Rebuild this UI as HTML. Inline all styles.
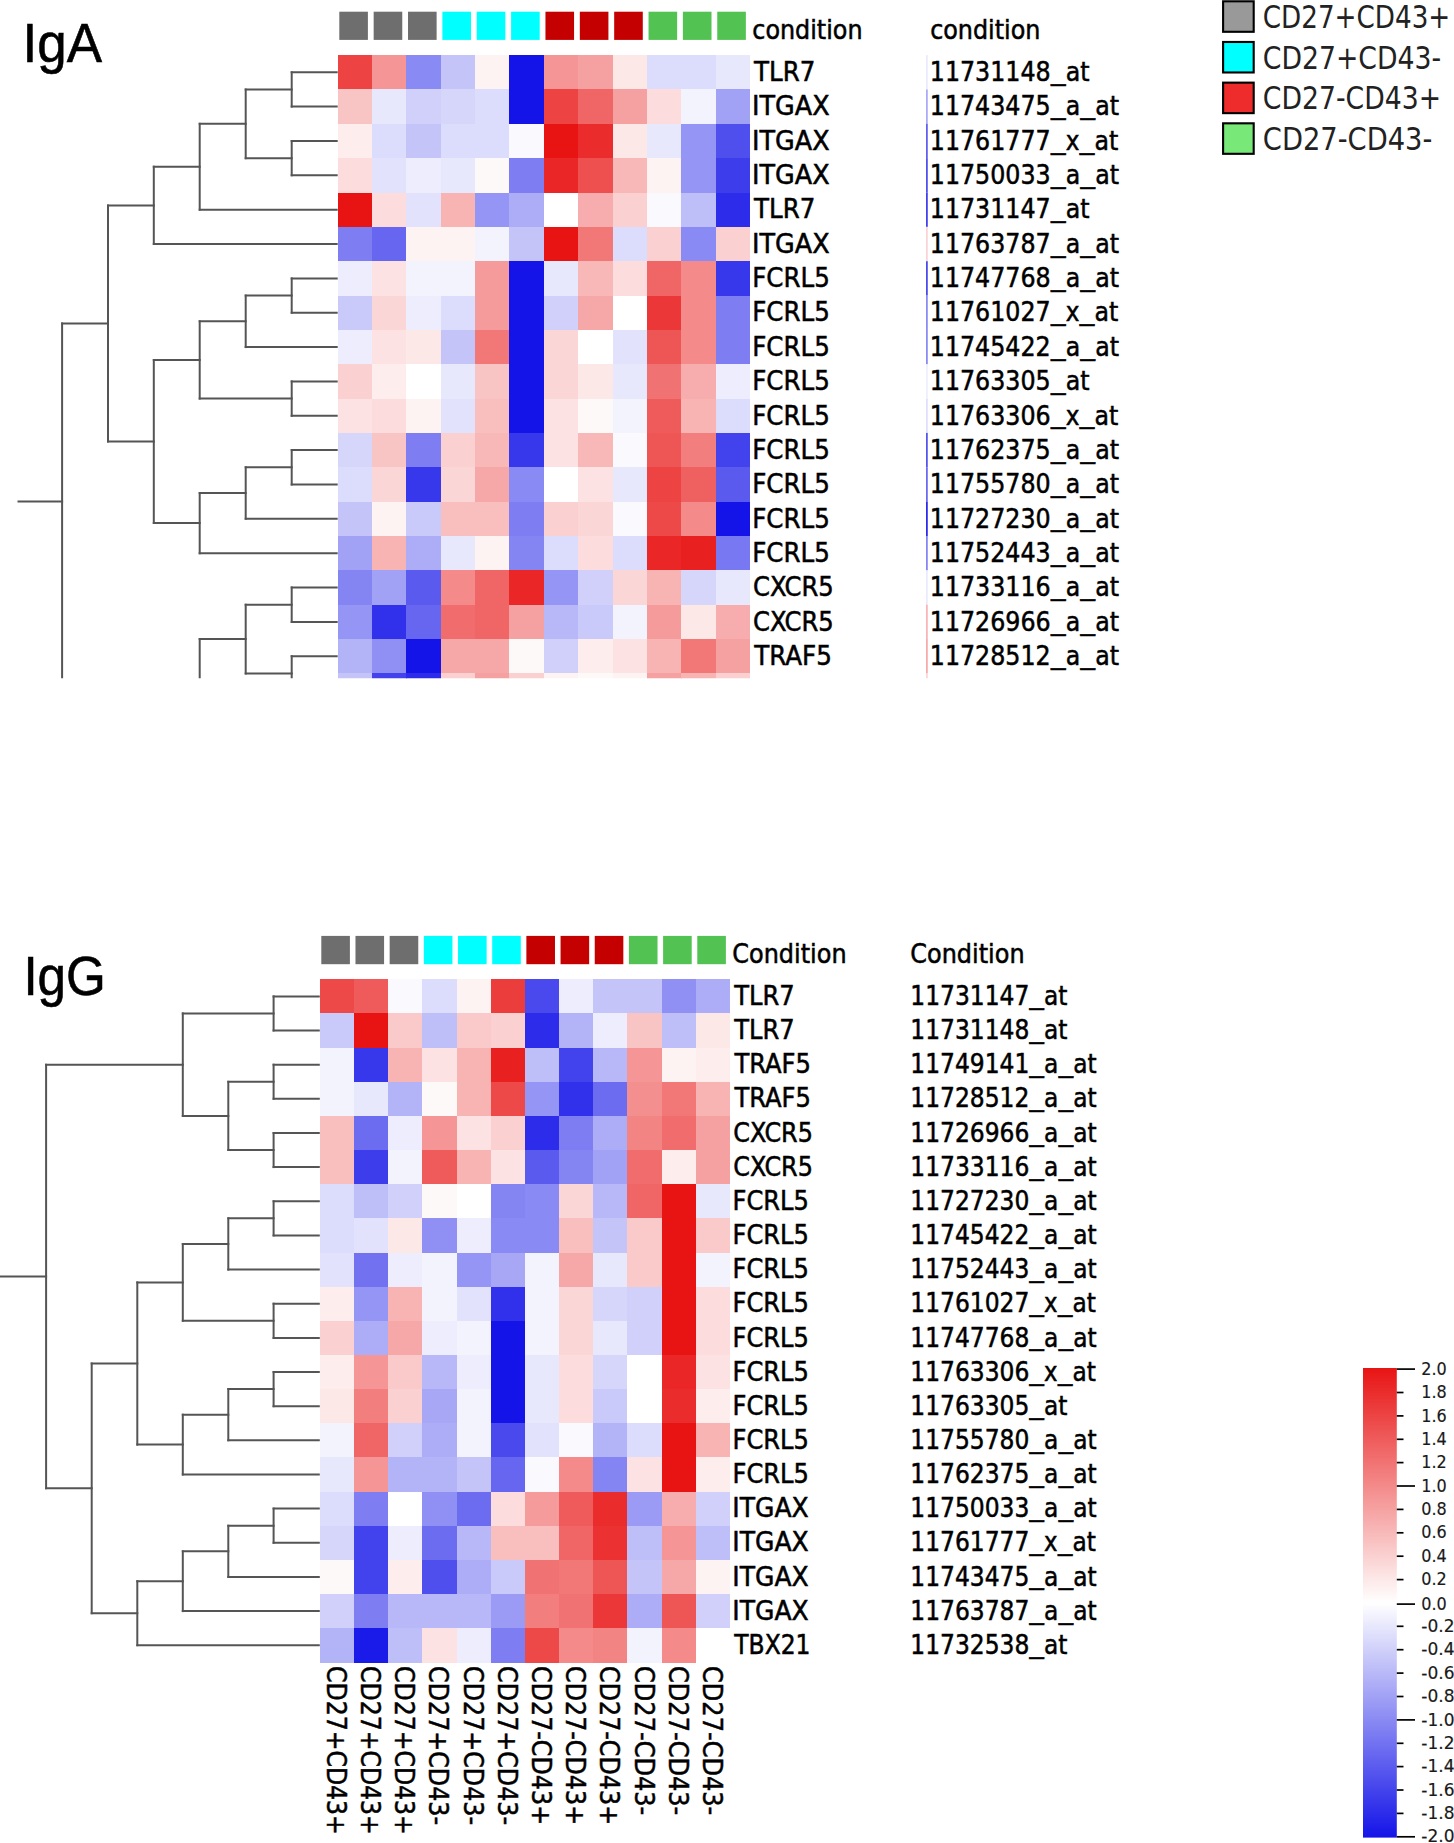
<!DOCTYPE html>
<html lang="en"><head><meta charset="utf-8"><title>Heatmaps IgA / IgG</title>
<style>
html,body{margin:0;padding:0;background:#fff;}
body{width:1454px;height:1843px;overflow:hidden;}
svg{display:block;}
</style></head><body>
<svg width="1454" height="1843" viewBox="0 0 1454 1843">
<rect x="0" y="0" width="1454" height="1843" fill="#ffffff"/>
<clipPath id="ct"><rect x="0" y="0" width="1454" height="678.3"/></clipPath>
<g clip-path="url(#ct)">
<g shape-rendering="crispEdges">
<rect x="337.70" y="55.10" width="34.65" height="34.65" fill="#ed4343"/>
<rect x="372.05" y="55.10" width="34.65" height="34.65" fill="#f59595"/>
<rect x="406.40" y="55.10" width="34.65" height="34.65" fill="#8a8af4"/>
<rect x="440.75" y="55.10" width="34.65" height="34.65" fill="#c4c4f9"/>
<rect x="475.10" y="55.10" width="34.65" height="34.65" fill="#fef3f3"/>
<rect x="509.45" y="55.10" width="34.65" height="34.65" fill="#1414e8"/>
<rect x="543.80" y="55.10" width="34.65" height="34.65" fill="#f59595"/>
<rect x="578.15" y="55.10" width="34.65" height="34.65" fill="#f6a1a1"/>
<rect x="612.50" y="55.10" width="34.65" height="34.65" fill="#fde8e8"/>
<rect x="646.85" y="55.10" width="34.65" height="34.65" fill="#dcdcfc"/>
<rect x="681.20" y="55.10" width="34.65" height="34.65" fill="#dcdcfc"/>
<rect x="715.55" y="55.10" width="34.65" height="34.65" fill="#e8e8fd"/>
<rect x="337.70" y="89.45" width="34.65" height="34.65" fill="#f9c4c4"/>
<rect x="372.05" y="89.45" width="34.65" height="34.65" fill="#e8e8fd"/>
<rect x="406.40" y="89.45" width="34.65" height="34.65" fill="#d0d0fa"/>
<rect x="440.75" y="89.45" width="34.65" height="34.65" fill="#d6d6fb"/>
<rect x="475.10" y="89.45" width="34.65" height="34.65" fill="#dcdcfc"/>
<rect x="509.45" y="89.45" width="34.65" height="34.65" fill="#1414e8"/>
<rect x="543.80" y="89.45" width="34.65" height="34.65" fill="#ed4343"/>
<rect x="578.15" y="89.45" width="34.65" height="34.65" fill="#f06666"/>
<rect x="612.50" y="89.45" width="34.65" height="34.65" fill="#f6a1a1"/>
<rect x="646.85" y="89.45" width="34.65" height="34.65" fill="#fcdcdc"/>
<rect x="681.20" y="89.45" width="34.65" height="34.65" fill="#f3f3fe"/>
<rect x="715.55" y="89.45" width="34.65" height="34.65" fill="#a1a1f6"/>
<rect x="337.70" y="123.80" width="34.65" height="34.65" fill="#fdeded"/>
<rect x="372.05" y="123.80" width="34.65" height="34.65" fill="#dcdcfc"/>
<rect x="406.40" y="123.80" width="34.65" height="34.65" fill="#c4c4f9"/>
<rect x="440.75" y="123.80" width="34.65" height="34.65" fill="#dcdcfc"/>
<rect x="475.10" y="123.80" width="34.65" height="34.65" fill="#dcdcfc"/>
<rect x="509.45" y="123.80" width="34.65" height="34.65" fill="#f9f9fe"/>
<rect x="543.80" y="123.80" width="34.65" height="34.65" fill="#e81414"/>
<rect x="578.15" y="123.80" width="34.65" height="34.65" fill="#ea2c2c"/>
<rect x="612.50" y="123.80" width="34.65" height="34.65" fill="#fde8e8"/>
<rect x="646.85" y="123.80" width="34.65" height="34.65" fill="#e8e8fd"/>
<rect x="681.20" y="123.80" width="34.65" height="34.65" fill="#9595f5"/>
<rect x="715.55" y="123.80" width="34.65" height="34.65" fill="#4f4fee"/>
<rect x="337.70" y="158.15" width="34.65" height="34.65" fill="#fcdcdc"/>
<rect x="372.05" y="158.15" width="34.65" height="34.65" fill="#e2e2fc"/>
<rect x="406.40" y="158.15" width="34.65" height="34.65" fill="#ededfd"/>
<rect x="440.75" y="158.15" width="34.65" height="34.65" fill="#e8e8fd"/>
<rect x="475.10" y="158.15" width="34.65" height="34.65" fill="#fef9f9"/>
<rect x="509.45" y="158.15" width="34.65" height="34.65" fill="#7e7ef2"/>
<rect x="543.80" y="158.15" width="34.65" height="34.65" fill="#ea2626"/>
<rect x="578.15" y="158.15" width="34.65" height="34.65" fill="#ee4f4f"/>
<rect x="612.50" y="158.15" width="34.65" height="34.65" fill="#f8b8b8"/>
<rect x="646.85" y="158.15" width="34.65" height="34.65" fill="#fef3f3"/>
<rect x="681.20" y="158.15" width="34.65" height="34.65" fill="#9595f5"/>
<rect x="715.55" y="158.15" width="34.65" height="34.65" fill="#3d3dec"/>
<rect x="337.70" y="192.50" width="34.65" height="34.65" fill="#e81414"/>
<rect x="372.05" y="192.50" width="34.65" height="34.65" fill="#fcdcdc"/>
<rect x="406.40" y="192.50" width="34.65" height="34.65" fill="#e2e2fc"/>
<rect x="440.75" y="192.50" width="34.65" height="34.65" fill="#f8b3b3"/>
<rect x="475.10" y="192.50" width="34.65" height="34.65" fill="#9595f5"/>
<rect x="509.45" y="192.50" width="34.65" height="34.65" fill="#adadf7"/>
<rect x="543.80" y="192.50" width="34.65" height="34.65" fill="#ffffff"/>
<rect x="578.15" y="192.50" width="34.65" height="34.65" fill="#f7adad"/>
<rect x="612.50" y="192.50" width="34.65" height="34.65" fill="#fad0d0"/>
<rect x="646.85" y="192.50" width="34.65" height="34.65" fill="#f9f9fe"/>
<rect x="681.20" y="192.50" width="34.65" height="34.65" fill="#bebef9"/>
<rect x="715.55" y="192.50" width="34.65" height="34.65" fill="#2c2cea"/>
<rect x="337.70" y="226.85" width="34.65" height="34.65" fill="#7e7ef2"/>
<rect x="372.05" y="226.85" width="34.65" height="34.65" fill="#6666f0"/>
<rect x="406.40" y="226.85" width="34.65" height="34.65" fill="#fef3f3"/>
<rect x="440.75" y="226.85" width="34.65" height="34.65" fill="#fef3f3"/>
<rect x="475.10" y="226.85" width="34.65" height="34.65" fill="#f3f3fe"/>
<rect x="509.45" y="226.85" width="34.65" height="34.65" fill="#c4c4f9"/>
<rect x="543.80" y="226.85" width="34.65" height="34.65" fill="#e81414"/>
<rect x="578.15" y="226.85" width="34.65" height="34.65" fill="#f27878"/>
<rect x="612.50" y="226.85" width="34.65" height="34.65" fill="#dcdcfc"/>
<rect x="646.85" y="226.85" width="34.65" height="34.65" fill="#fad0d0"/>
<rect x="681.20" y="226.85" width="34.65" height="34.65" fill="#8a8af4"/>
<rect x="715.55" y="226.85" width="34.65" height="34.65" fill="#fad0d0"/>
<rect x="337.70" y="261.20" width="34.65" height="34.65" fill="#ededfd"/>
<rect x="372.05" y="261.20" width="34.65" height="34.65" fill="#fce2e2"/>
<rect x="406.40" y="261.20" width="34.65" height="34.65" fill="#f3f3fe"/>
<rect x="440.75" y="261.20" width="34.65" height="34.65" fill="#f3f3fe"/>
<rect x="475.10" y="261.20" width="34.65" height="34.65" fill="#f59b9b"/>
<rect x="509.45" y="261.20" width="34.65" height="34.65" fill="#1414e8"/>
<rect x="543.80" y="261.20" width="34.65" height="34.65" fill="#e8e8fd"/>
<rect x="578.15" y="261.20" width="34.65" height="34.65" fill="#f8b8b8"/>
<rect x="612.50" y="261.20" width="34.65" height="34.65" fill="#fcdcdc"/>
<rect x="646.85" y="261.20" width="34.65" height="34.65" fill="#f06666"/>
<rect x="681.20" y="261.20" width="34.65" height="34.65" fill="#f48a8a"/>
<rect x="715.55" y="261.20" width="34.65" height="34.65" fill="#3737eb"/>
<rect x="337.70" y="295.55" width="34.65" height="34.65" fill="#cacafa"/>
<rect x="372.05" y="295.55" width="34.65" height="34.65" fill="#fbd6d6"/>
<rect x="406.40" y="295.55" width="34.65" height="34.65" fill="#ededfd"/>
<rect x="440.75" y="295.55" width="34.65" height="34.65" fill="#dcdcfc"/>
<rect x="475.10" y="295.55" width="34.65" height="34.65" fill="#f59b9b"/>
<rect x="509.45" y="295.55" width="34.65" height="34.65" fill="#1414e8"/>
<rect x="543.80" y="295.55" width="34.65" height="34.65" fill="#d0d0fa"/>
<rect x="578.15" y="295.55" width="34.65" height="34.65" fill="#f6a7a7"/>
<rect x="612.50" y="295.55" width="34.65" height="34.65" fill="#ffffff"/>
<rect x="646.85" y="295.55" width="34.65" height="34.65" fill="#eb3737"/>
<rect x="681.20" y="295.55" width="34.65" height="34.65" fill="#f48a8a"/>
<rect x="715.55" y="295.55" width="34.65" height="34.65" fill="#7e7ef2"/>
<rect x="337.70" y="329.90" width="34.65" height="34.65" fill="#ededfd"/>
<rect x="372.05" y="329.90" width="34.65" height="34.65" fill="#fce2e2"/>
<rect x="406.40" y="329.90" width="34.65" height="34.65" fill="#fde8e8"/>
<rect x="440.75" y="329.90" width="34.65" height="34.65" fill="#c4c4f9"/>
<rect x="475.10" y="329.90" width="34.65" height="34.65" fill="#f27878"/>
<rect x="509.45" y="329.90" width="34.65" height="34.65" fill="#1414e8"/>
<rect x="543.80" y="329.90" width="34.65" height="34.65" fill="#fbd6d6"/>
<rect x="578.15" y="329.90" width="34.65" height="34.65" fill="#ffffff"/>
<rect x="612.50" y="329.90" width="34.65" height="34.65" fill="#e2e2fc"/>
<rect x="646.85" y="329.90" width="34.65" height="34.65" fill="#ee5555"/>
<rect x="681.20" y="329.90" width="34.65" height="34.65" fill="#f48a8a"/>
<rect x="715.55" y="329.90" width="34.65" height="34.65" fill="#7e7ef2"/>
<rect x="337.70" y="364.25" width="34.65" height="34.65" fill="#fad0d0"/>
<rect x="372.05" y="364.25" width="34.65" height="34.65" fill="#fdeded"/>
<rect x="406.40" y="364.25" width="34.65" height="34.65" fill="#ffffff"/>
<rect x="440.75" y="364.25" width="34.65" height="34.65" fill="#e8e8fd"/>
<rect x="475.10" y="364.25" width="34.65" height="34.65" fill="#f9c4c4"/>
<rect x="509.45" y="364.25" width="34.65" height="34.65" fill="#1414e8"/>
<rect x="543.80" y="364.25" width="34.65" height="34.65" fill="#fbd6d6"/>
<rect x="578.15" y="364.25" width="34.65" height="34.65" fill="#fde8e8"/>
<rect x="612.50" y="364.25" width="34.65" height="34.65" fill="#e8e8fd"/>
<rect x="646.85" y="364.25" width="34.65" height="34.65" fill="#f17272"/>
<rect x="681.20" y="364.25" width="34.65" height="34.65" fill="#f7adad"/>
<rect x="715.55" y="364.25" width="34.65" height="34.65" fill="#ededfd"/>
<rect x="337.70" y="398.60" width="34.65" height="34.65" fill="#fce2e2"/>
<rect x="372.05" y="398.60" width="34.65" height="34.65" fill="#fcdcdc"/>
<rect x="406.40" y="398.60" width="34.65" height="34.65" fill="#fef3f3"/>
<rect x="440.75" y="398.60" width="34.65" height="34.65" fill="#e2e2fc"/>
<rect x="475.10" y="398.60" width="34.65" height="34.65" fill="#f9bebe"/>
<rect x="509.45" y="398.60" width="34.65" height="34.65" fill="#1414e8"/>
<rect x="543.80" y="398.60" width="34.65" height="34.65" fill="#fce2e2"/>
<rect x="578.15" y="398.60" width="34.65" height="34.65" fill="#fef9f9"/>
<rect x="612.50" y="398.60" width="34.65" height="34.65" fill="#f3f3fe"/>
<rect x="646.85" y="398.60" width="34.65" height="34.65" fill="#ef5a5a"/>
<rect x="681.20" y="398.60" width="34.65" height="34.65" fill="#f8b3b3"/>
<rect x="715.55" y="398.60" width="34.65" height="34.65" fill="#dcdcfc"/>
<rect x="337.70" y="432.95" width="34.65" height="34.65" fill="#d6d6fb"/>
<rect x="372.05" y="432.95" width="34.65" height="34.65" fill="#f9c4c4"/>
<rect x="406.40" y="432.95" width="34.65" height="34.65" fill="#7e7ef2"/>
<rect x="440.75" y="432.95" width="34.65" height="34.65" fill="#fad0d0"/>
<rect x="475.10" y="432.95" width="34.65" height="34.65" fill="#f8b8b8"/>
<rect x="509.45" y="432.95" width="34.65" height="34.65" fill="#3737eb"/>
<rect x="543.80" y="432.95" width="34.65" height="34.65" fill="#fce2e2"/>
<rect x="578.15" y="432.95" width="34.65" height="34.65" fill="#f8b8b8"/>
<rect x="612.50" y="432.95" width="34.65" height="34.65" fill="#f9f9fe"/>
<rect x="646.85" y="432.95" width="34.65" height="34.65" fill="#ee5555"/>
<rect x="681.20" y="432.95" width="34.65" height="34.65" fill="#f27e7e"/>
<rect x="715.55" y="432.95" width="34.65" height="34.65" fill="#4343ed"/>
<rect x="337.70" y="467.30" width="34.65" height="34.65" fill="#dcdcfc"/>
<rect x="372.05" y="467.30" width="34.65" height="34.65" fill="#fbd6d6"/>
<rect x="406.40" y="467.30" width="34.65" height="34.65" fill="#3737eb"/>
<rect x="440.75" y="467.30" width="34.65" height="34.65" fill="#fbd6d6"/>
<rect x="475.10" y="467.30" width="34.65" height="34.65" fill="#f6a7a7"/>
<rect x="509.45" y="467.30" width="34.65" height="34.65" fill="#8a8af4"/>
<rect x="543.80" y="467.30" width="34.65" height="34.65" fill="#ffffff"/>
<rect x="578.15" y="467.30" width="34.65" height="34.65" fill="#fce2e2"/>
<rect x="612.50" y="467.30" width="34.65" height="34.65" fill="#e8e8fd"/>
<rect x="646.85" y="467.30" width="34.65" height="34.65" fill="#ed4343"/>
<rect x="681.20" y="467.30" width="34.65" height="34.65" fill="#ef6060"/>
<rect x="715.55" y="467.30" width="34.65" height="34.65" fill="#5a5aef"/>
<rect x="337.70" y="501.65" width="34.65" height="34.65" fill="#c4c4f9"/>
<rect x="372.05" y="501.65" width="34.65" height="34.65" fill="#fef3f3"/>
<rect x="406.40" y="501.65" width="34.65" height="34.65" fill="#cacafa"/>
<rect x="440.75" y="501.65" width="34.65" height="34.65" fill="#f9bebe"/>
<rect x="475.10" y="501.65" width="34.65" height="34.65" fill="#f9bebe"/>
<rect x="509.45" y="501.65" width="34.65" height="34.65" fill="#7e7ef2"/>
<rect x="543.80" y="501.65" width="34.65" height="34.65" fill="#fad0d0"/>
<rect x="578.15" y="501.65" width="34.65" height="34.65" fill="#fbd6d6"/>
<rect x="612.50" y="501.65" width="34.65" height="34.65" fill="#f9f9fe"/>
<rect x="646.85" y="501.65" width="34.65" height="34.65" fill="#ed4949"/>
<rect x="681.20" y="501.65" width="34.65" height="34.65" fill="#f48a8a"/>
<rect x="715.55" y="501.65" width="34.65" height="34.65" fill="#1414e8"/>
<rect x="337.70" y="536.00" width="34.65" height="34.65" fill="#a1a1f6"/>
<rect x="372.05" y="536.00" width="34.65" height="34.65" fill="#f8b3b3"/>
<rect x="406.40" y="536.00" width="34.65" height="34.65" fill="#adadf7"/>
<rect x="440.75" y="536.00" width="34.65" height="34.65" fill="#e8e8fd"/>
<rect x="475.10" y="536.00" width="34.65" height="34.65" fill="#fef3f3"/>
<rect x="509.45" y="536.00" width="34.65" height="34.65" fill="#8484f3"/>
<rect x="543.80" y="536.00" width="34.65" height="34.65" fill="#dcdcfc"/>
<rect x="578.15" y="536.00" width="34.65" height="34.65" fill="#fcdcdc"/>
<rect x="612.50" y="536.00" width="34.65" height="34.65" fill="#dcdcfc"/>
<rect x="646.85" y="536.00" width="34.65" height="34.65" fill="#ea2626"/>
<rect x="681.20" y="536.00" width="34.65" height="34.65" fill="#e92020"/>
<rect x="715.55" y="536.00" width="34.65" height="34.65" fill="#7878f2"/>
<rect x="337.70" y="570.35" width="34.65" height="34.65" fill="#8484f3"/>
<rect x="372.05" y="570.35" width="34.65" height="34.65" fill="#a1a1f6"/>
<rect x="406.40" y="570.35" width="34.65" height="34.65" fill="#5a5aef"/>
<rect x="440.75" y="570.35" width="34.65" height="34.65" fill="#f48a8a"/>
<rect x="475.10" y="570.35" width="34.65" height="34.65" fill="#f06666"/>
<rect x="509.45" y="570.35" width="34.65" height="34.65" fill="#ea2626"/>
<rect x="543.80" y="570.35" width="34.65" height="34.65" fill="#9595f5"/>
<rect x="578.15" y="570.35" width="34.65" height="34.65" fill="#d0d0fa"/>
<rect x="612.50" y="570.35" width="34.65" height="34.65" fill="#fbd6d6"/>
<rect x="646.85" y="570.35" width="34.65" height="34.65" fill="#f8b3b3"/>
<rect x="681.20" y="570.35" width="34.65" height="34.65" fill="#d6d6fb"/>
<rect x="715.55" y="570.35" width="34.65" height="34.65" fill="#e8e8fd"/>
<rect x="337.70" y="604.70" width="34.65" height="34.65" fill="#9595f5"/>
<rect x="372.05" y="604.70" width="34.65" height="34.65" fill="#3131eb"/>
<rect x="406.40" y="604.70" width="34.65" height="34.65" fill="#6666f0"/>
<rect x="440.75" y="604.70" width="34.65" height="34.65" fill="#f16c6c"/>
<rect x="475.10" y="604.70" width="34.65" height="34.65" fill="#f06666"/>
<rect x="509.45" y="604.70" width="34.65" height="34.65" fill="#f6a1a1"/>
<rect x="543.80" y="604.70" width="34.65" height="34.65" fill="#b8b8f8"/>
<rect x="578.15" y="604.70" width="34.65" height="34.65" fill="#cacafa"/>
<rect x="612.50" y="604.70" width="34.65" height="34.65" fill="#f3f3fe"/>
<rect x="646.85" y="604.70" width="34.65" height="34.65" fill="#f59b9b"/>
<rect x="681.20" y="604.70" width="34.65" height="34.65" fill="#fde8e8"/>
<rect x="715.55" y="604.70" width="34.65" height="34.65" fill="#f7adad"/>
<rect x="337.70" y="639.05" width="34.65" height="34.65" fill="#b3b3f8"/>
<rect x="372.05" y="639.05" width="34.65" height="34.65" fill="#8f8ff4"/>
<rect x="406.40" y="639.05" width="34.65" height="34.65" fill="#1414e8"/>
<rect x="440.75" y="639.05" width="34.65" height="34.65" fill="#f6a7a7"/>
<rect x="475.10" y="639.05" width="34.65" height="34.65" fill="#f6a7a7"/>
<rect x="509.45" y="639.05" width="34.65" height="34.65" fill="#fef9f9"/>
<rect x="543.80" y="639.05" width="34.65" height="34.65" fill="#d0d0fa"/>
<rect x="578.15" y="639.05" width="34.65" height="34.65" fill="#fdeded"/>
<rect x="612.50" y="639.05" width="34.65" height="34.65" fill="#fce2e2"/>
<rect x="646.85" y="639.05" width="34.65" height="34.65" fill="#f8b3b3"/>
<rect x="681.20" y="639.05" width="34.65" height="34.65" fill="#f27878"/>
<rect x="715.55" y="639.05" width="34.65" height="34.65" fill="#f6a1a1"/>
<rect x="337.70" y="673.40" width="34.65" height="34.65" fill="#c4c4f9"/>
<rect x="372.05" y="673.40" width="34.65" height="34.65" fill="#4343ed"/>
<rect x="406.40" y="673.40" width="34.65" height="34.65" fill="#2c2cea"/>
<rect x="440.75" y="673.40" width="34.65" height="34.65" fill="#fad0d0"/>
<rect x="475.10" y="673.40" width="34.65" height="34.65" fill="#f6a1a1"/>
<rect x="509.45" y="673.40" width="34.65" height="34.65" fill="#fad0d0"/>
<rect x="543.80" y="673.40" width="34.65" height="34.65" fill="#fef3f3"/>
<rect x="578.15" y="673.40" width="34.65" height="34.65" fill="#fef9f9"/>
<rect x="612.50" y="673.40" width="34.65" height="34.65" fill="#fef3f3"/>
<rect x="646.85" y="673.40" width="34.65" height="34.65" fill="#f6a1a1"/>
<rect x="681.20" y="673.40" width="34.65" height="34.65" fill="#f8b3b3"/>
<rect x="715.55" y="673.40" width="34.65" height="34.65" fill="#fad0d0"/>
</g>
<rect x="926.1" y="55.10" width="1.6" height="34.40" fill="#e8e8fd"/>
<rect x="926.1" y="89.45" width="1.6" height="34.40" fill="#a1a1f6"/>
<rect x="926.1" y="123.80" width="1.6" height="34.40" fill="#4f4fee"/>
<rect x="926.1" y="158.15" width="1.6" height="34.40" fill="#3d3dec"/>
<rect x="926.1" y="192.50" width="1.6" height="34.40" fill="#2c2cea"/>
<rect x="926.1" y="226.85" width="1.6" height="34.40" fill="#fad0d0"/>
<rect x="926.1" y="261.20" width="1.6" height="34.40" fill="#3737eb"/>
<rect x="926.1" y="295.55" width="1.6" height="34.40" fill="#7e7ef2"/>
<rect x="926.1" y="329.90" width="1.6" height="34.40" fill="#7e7ef2"/>
<rect x="926.1" y="364.25" width="1.6" height="34.40" fill="#ededfd"/>
<rect x="926.1" y="398.60" width="1.6" height="34.40" fill="#dcdcfc"/>
<rect x="926.1" y="432.95" width="1.6" height="34.40" fill="#4343ed"/>
<rect x="926.1" y="467.30" width="1.6" height="34.40" fill="#5a5aef"/>
<rect x="926.1" y="501.65" width="1.6" height="34.40" fill="#1414e8"/>
<rect x="926.1" y="536.00" width="1.6" height="34.40" fill="#7878f2"/>
<rect x="926.1" y="570.35" width="1.6" height="34.40" fill="#e8e8fd"/>
<rect x="926.1" y="604.70" width="1.6" height="34.40" fill="#f7adad"/>
<rect x="926.1" y="639.05" width="1.6" height="34.40" fill="#f6a1a1"/>
<rect x="926.1" y="673.40" width="1.6" height="34.40" fill="#fad0d0"/>
<g stroke="#555555" stroke-width="2.0" stroke-linecap="square" fill="none">
<line x1="291.7" y1="72.3" x2="336.7" y2="72.3"/>
<line x1="291.7" y1="106.6" x2="336.7" y2="106.6"/>
<line x1="291.7" y1="72.3" x2="291.7" y2="106.6"/>
<line x1="291.7" y1="141.0" x2="336.7" y2="141.0"/>
<line x1="291.7" y1="175.3" x2="336.7" y2="175.3"/>
<line x1="291.7" y1="141.0" x2="291.7" y2="175.3"/>
<line x1="245.7" y1="89.5" x2="291.7" y2="89.5"/>
<line x1="245.7" y1="158.2" x2="291.7" y2="158.2"/>
<line x1="245.7" y1="89.5" x2="245.7" y2="158.2"/>
<line x1="199.7" y1="123.8" x2="245.7" y2="123.8"/>
<line x1="199.7" y1="209.7" x2="336.7" y2="209.7"/>
<line x1="199.7" y1="123.8" x2="199.7" y2="209.7"/>
<line x1="153.8" y1="166.7" x2="199.7" y2="166.7"/>
<line x1="153.8" y1="244.0" x2="336.7" y2="244.0"/>
<line x1="153.8" y1="166.7" x2="153.8" y2="244.0"/>
<line x1="291.7" y1="278.4" x2="336.7" y2="278.4"/>
<line x1="291.7" y1="312.7" x2="336.7" y2="312.7"/>
<line x1="291.7" y1="278.4" x2="291.7" y2="312.7"/>
<line x1="245.7" y1="295.6" x2="291.7" y2="295.6"/>
<line x1="245.7" y1="347.1" x2="336.7" y2="347.1"/>
<line x1="245.7" y1="295.6" x2="245.7" y2="347.1"/>
<line x1="291.7" y1="381.4" x2="336.7" y2="381.4"/>
<line x1="291.7" y1="415.8" x2="336.7" y2="415.8"/>
<line x1="291.7" y1="381.4" x2="291.7" y2="415.8"/>
<line x1="199.7" y1="321.3" x2="245.7" y2="321.3"/>
<line x1="199.7" y1="398.6" x2="291.7" y2="398.6"/>
<line x1="199.7" y1="321.3" x2="199.7" y2="398.6"/>
<line x1="291.7" y1="450.1" x2="336.7" y2="450.1"/>
<line x1="291.7" y1="484.5" x2="336.7" y2="484.5"/>
<line x1="291.7" y1="450.1" x2="291.7" y2="484.5"/>
<line x1="245.7" y1="467.3" x2="291.7" y2="467.3"/>
<line x1="245.7" y1="518.8" x2="336.7" y2="518.8"/>
<line x1="245.7" y1="467.3" x2="245.7" y2="518.8"/>
<line x1="199.7" y1="493.1" x2="245.7" y2="493.1"/>
<line x1="199.7" y1="553.2" x2="336.7" y2="553.2"/>
<line x1="199.7" y1="493.1" x2="199.7" y2="553.2"/>
<line x1="153.8" y1="360.0" x2="199.7" y2="360.0"/>
<line x1="153.8" y1="523.1" x2="199.7" y2="523.1"/>
<line x1="153.8" y1="360.0" x2="153.8" y2="523.1"/>
<line x1="108.0" y1="205.4" x2="153.8" y2="205.4"/>
<line x1="108.0" y1="441.5" x2="153.8" y2="441.5"/>
<line x1="108.0" y1="205.4" x2="108.0" y2="441.5"/>
<line x1="291.7" y1="587.5" x2="336.7" y2="587.5"/>
<line x1="291.7" y1="621.9" x2="336.7" y2="621.9"/>
<line x1="291.7" y1="587.5" x2="291.7" y2="621.9"/>
<line x1="291.7" y1="656.2" x2="336.7" y2="656.2"/>
<line x1="291.7" y1="690.6" x2="336.7" y2="690.6"/>
<line x1="291.7" y1="656.2" x2="291.7" y2="690.6"/>
<line x1="245.7" y1="604.7" x2="291.7" y2="604.7"/>
<line x1="245.7" y1="673.4" x2="291.7" y2="673.4"/>
<line x1="245.7" y1="604.7" x2="245.7" y2="673.4"/>
<line x1="199.7" y1="639.1" x2="245.7" y2="639.1"/>
<line x1="199.7" y1="639.1" x2="199.7" y2="720.0"/>
<line x1="62.1" y1="323.5" x2="108.0" y2="323.5"/>
<line x1="62.1" y1="323.5" x2="62.1" y2="720.0"/>
<line x1="18.5" y1="501.4" x2="62.1" y2="501.4"/>
</g>
</g>
<rect x="339.30" y="11.7" width="28.6" height="28.2" fill="#6e6e6e"/>
<rect x="373.66" y="11.7" width="28.6" height="28.2" fill="#6e6e6e"/>
<rect x="408.02" y="11.7" width="28.6" height="28.2" fill="#6e6e6e"/>
<rect x="442.38" y="11.7" width="28.6" height="28.2" fill="#00ffff"/>
<rect x="476.74" y="11.7" width="28.6" height="28.2" fill="#00ffff"/>
<rect x="511.10" y="11.7" width="28.6" height="28.2" fill="#00ffff"/>
<rect x="545.46" y="11.7" width="28.6" height="28.2" fill="#c40000"/>
<rect x="579.82" y="11.7" width="28.6" height="28.2" fill="#c40000"/>
<rect x="614.18" y="11.7" width="28.6" height="28.2" fill="#c40000"/>
<rect x="648.54" y="11.7" width="28.6" height="28.2" fill="#52c252"/>
<rect x="682.90" y="11.7" width="28.6" height="28.2" fill="#52c252"/>
<rect x="717.26" y="11.7" width="28.6" height="28.2" fill="#52c252"/>
<g font-family='"DejaVu Sans Condensed","DejaVu Sans","Liberation Sans",sans-serif' stroke="#000" stroke-width="0.5">
<text x="752.3" y="38.8" font-size="27.00" fill="#000" textLength="110.2" lengthAdjust="spacingAndGlyphs">condition</text>
<text x="930.2" y="38.8" font-size="27.00" fill="#000" textLength="110.2" lengthAdjust="spacingAndGlyphs">condition</text>
<text x="754.0" y="81.0" font-size="27.00" fill="#000" textLength="61.3" lengthAdjust="spacingAndGlyphs">TLR7</text>
<text y="81.0" font-size="27.00"><tspan x="929.8" textLength="120.8" lengthAdjust="spacingAndGlyphs">11731148</tspan><tspan x="1050.9" dy="-1.1" textLength="14.5" lengthAdjust="spacingAndGlyphs">_</tspan><tspan x="1065.7" dy="1.1" textLength="23.8" lengthAdjust="spacingAndGlyphs">at</tspan></text>
<text x="752.0" y="115.3" font-size="27.00" fill="#000" textLength="77.6" lengthAdjust="spacingAndGlyphs">ITGAX</text>
<text y="115.3" font-size="27.00"><tspan x="929.8" textLength="120.8" lengthAdjust="spacingAndGlyphs">11743475</tspan><tspan x="1050.9" dy="-1.1" textLength="14.5" lengthAdjust="spacingAndGlyphs">_</tspan><tspan x="1065.7" dy="1.1" textLength="14.5" lengthAdjust="spacingAndGlyphs">a</tspan><tspan x="1080.5" dy="-1.1" textLength="14.5" lengthAdjust="spacingAndGlyphs">_</tspan><tspan x="1095.3" dy="1.1" textLength="23.8" lengthAdjust="spacingAndGlyphs">at</tspan></text>
<text x="752.0" y="149.7" font-size="27.00" fill="#000" textLength="77.6" lengthAdjust="spacingAndGlyphs">ITGAX</text>
<text y="149.7" font-size="27.00"><tspan x="929.8" textLength="120.8" lengthAdjust="spacingAndGlyphs">11761777</tspan><tspan x="1050.9" dy="-1.1" textLength="14.5" lengthAdjust="spacingAndGlyphs">_</tspan><tspan x="1065.7" dy="1.1" textLength="13.7" lengthAdjust="spacingAndGlyphs">x</tspan><tspan x="1079.7" dy="-1.1" textLength="14.5" lengthAdjust="spacingAndGlyphs">_</tspan><tspan x="1094.5" dy="1.1" textLength="23.8" lengthAdjust="spacingAndGlyphs">at</tspan></text>
<text x="752.0" y="184.0" font-size="27.00" fill="#000" textLength="77.6" lengthAdjust="spacingAndGlyphs">ITGAX</text>
<text y="184.0" font-size="27.00"><tspan x="929.8" textLength="120.8" lengthAdjust="spacingAndGlyphs">11750033</tspan><tspan x="1050.9" dy="-1.1" textLength="14.5" lengthAdjust="spacingAndGlyphs">_</tspan><tspan x="1065.7" dy="1.1" textLength="14.5" lengthAdjust="spacingAndGlyphs">a</tspan><tspan x="1080.5" dy="-1.1" textLength="14.5" lengthAdjust="spacingAndGlyphs">_</tspan><tspan x="1095.3" dy="1.1" textLength="23.8" lengthAdjust="spacingAndGlyphs">at</tspan></text>
<text x="754.0" y="218.4" font-size="27.00" fill="#000" textLength="61.3" lengthAdjust="spacingAndGlyphs">TLR7</text>
<text y="218.4" font-size="27.00"><tspan x="929.8" textLength="120.8" lengthAdjust="spacingAndGlyphs">11731147</tspan><tspan x="1050.9" dy="-1.1" textLength="14.5" lengthAdjust="spacingAndGlyphs">_</tspan><tspan x="1065.7" dy="1.1" textLength="23.8" lengthAdjust="spacingAndGlyphs">at</tspan></text>
<text x="752.0" y="252.7" font-size="27.00" fill="#000" textLength="77.6" lengthAdjust="spacingAndGlyphs">ITGAX</text>
<text y="252.7" font-size="27.00"><tspan x="929.8" textLength="120.8" lengthAdjust="spacingAndGlyphs">11763787</tspan><tspan x="1050.9" dy="-1.1" textLength="14.5" lengthAdjust="spacingAndGlyphs">_</tspan><tspan x="1065.7" dy="1.1" textLength="14.5" lengthAdjust="spacingAndGlyphs">a</tspan><tspan x="1080.5" dy="-1.1" textLength="14.5" lengthAdjust="spacingAndGlyphs">_</tspan><tspan x="1095.3" dy="1.1" textLength="23.8" lengthAdjust="spacingAndGlyphs">at</tspan></text>
<text x="752.2" y="287.1" font-size="27.00" fill="#000" textLength="77.6" lengthAdjust="spacingAndGlyphs">FCRL5</text>
<text y="287.1" font-size="27.00"><tspan x="929.8" textLength="120.8" lengthAdjust="spacingAndGlyphs">11747768</tspan><tspan x="1050.9" dy="-1.1" textLength="14.5" lengthAdjust="spacingAndGlyphs">_</tspan><tspan x="1065.7" dy="1.1" textLength="14.5" lengthAdjust="spacingAndGlyphs">a</tspan><tspan x="1080.5" dy="-1.1" textLength="14.5" lengthAdjust="spacingAndGlyphs">_</tspan><tspan x="1095.3" dy="1.1" textLength="23.8" lengthAdjust="spacingAndGlyphs">at</tspan></text>
<text x="752.2" y="321.4" font-size="27.00" fill="#000" textLength="77.6" lengthAdjust="spacingAndGlyphs">FCRL5</text>
<text y="321.4" font-size="27.00"><tspan x="929.8" textLength="120.8" lengthAdjust="spacingAndGlyphs">11761027</tspan><tspan x="1050.9" dy="-1.1" textLength="14.5" lengthAdjust="spacingAndGlyphs">_</tspan><tspan x="1065.7" dy="1.1" textLength="13.7" lengthAdjust="spacingAndGlyphs">x</tspan><tspan x="1079.7" dy="-1.1" textLength="14.5" lengthAdjust="spacingAndGlyphs">_</tspan><tspan x="1094.5" dy="1.1" textLength="23.8" lengthAdjust="spacingAndGlyphs">at</tspan></text>
<text x="752.2" y="355.8" font-size="27.00" fill="#000" textLength="77.6" lengthAdjust="spacingAndGlyphs">FCRL5</text>
<text y="355.8" font-size="27.00"><tspan x="929.8" textLength="120.8" lengthAdjust="spacingAndGlyphs">11745422</tspan><tspan x="1050.9" dy="-1.1" textLength="14.5" lengthAdjust="spacingAndGlyphs">_</tspan><tspan x="1065.7" dy="1.1" textLength="14.5" lengthAdjust="spacingAndGlyphs">a</tspan><tspan x="1080.5" dy="-1.1" textLength="14.5" lengthAdjust="spacingAndGlyphs">_</tspan><tspan x="1095.3" dy="1.1" textLength="23.8" lengthAdjust="spacingAndGlyphs">at</tspan></text>
<text x="752.2" y="390.1" font-size="27.00" fill="#000" textLength="77.6" lengthAdjust="spacingAndGlyphs">FCRL5</text>
<text y="390.1" font-size="27.00"><tspan x="929.8" textLength="120.8" lengthAdjust="spacingAndGlyphs">11763305</tspan><tspan x="1050.9" dy="-1.1" textLength="14.5" lengthAdjust="spacingAndGlyphs">_</tspan><tspan x="1065.7" dy="1.1" textLength="23.8" lengthAdjust="spacingAndGlyphs">at</tspan></text>
<text x="752.2" y="424.5" font-size="27.00" fill="#000" textLength="77.6" lengthAdjust="spacingAndGlyphs">FCRL5</text>
<text y="424.5" font-size="27.00"><tspan x="929.8" textLength="120.8" lengthAdjust="spacingAndGlyphs">11763306</tspan><tspan x="1050.9" dy="-1.1" textLength="14.5" lengthAdjust="spacingAndGlyphs">_</tspan><tspan x="1065.7" dy="1.1" textLength="13.7" lengthAdjust="spacingAndGlyphs">x</tspan><tspan x="1079.7" dy="-1.1" textLength="14.5" lengthAdjust="spacingAndGlyphs">_</tspan><tspan x="1094.5" dy="1.1" textLength="23.8" lengthAdjust="spacingAndGlyphs">at</tspan></text>
<text x="752.2" y="458.8" font-size="27.00" fill="#000" textLength="77.6" lengthAdjust="spacingAndGlyphs">FCRL5</text>
<text y="458.8" font-size="27.00"><tspan x="929.8" textLength="120.8" lengthAdjust="spacingAndGlyphs">11762375</tspan><tspan x="1050.9" dy="-1.1" textLength="14.5" lengthAdjust="spacingAndGlyphs">_</tspan><tspan x="1065.7" dy="1.1" textLength="14.5" lengthAdjust="spacingAndGlyphs">a</tspan><tspan x="1080.5" dy="-1.1" textLength="14.5" lengthAdjust="spacingAndGlyphs">_</tspan><tspan x="1095.3" dy="1.1" textLength="23.8" lengthAdjust="spacingAndGlyphs">at</tspan></text>
<text x="752.2" y="493.2" font-size="27.00" fill="#000" textLength="77.6" lengthAdjust="spacingAndGlyphs">FCRL5</text>
<text y="493.2" font-size="27.00"><tspan x="929.8" textLength="120.8" lengthAdjust="spacingAndGlyphs">11755780</tspan><tspan x="1050.9" dy="-1.1" textLength="14.5" lengthAdjust="spacingAndGlyphs">_</tspan><tspan x="1065.7" dy="1.1" textLength="14.5" lengthAdjust="spacingAndGlyphs">a</tspan><tspan x="1080.5" dy="-1.1" textLength="14.5" lengthAdjust="spacingAndGlyphs">_</tspan><tspan x="1095.3" dy="1.1" textLength="23.8" lengthAdjust="spacingAndGlyphs">at</tspan></text>
<text x="752.2" y="527.5" font-size="27.00" fill="#000" textLength="77.6" lengthAdjust="spacingAndGlyphs">FCRL5</text>
<text y="527.5" font-size="27.00"><tspan x="929.8" textLength="120.8" lengthAdjust="spacingAndGlyphs">11727230</tspan><tspan x="1050.9" dy="-1.1" textLength="14.5" lengthAdjust="spacingAndGlyphs">_</tspan><tspan x="1065.7" dy="1.1" textLength="14.5" lengthAdjust="spacingAndGlyphs">a</tspan><tspan x="1080.5" dy="-1.1" textLength="14.5" lengthAdjust="spacingAndGlyphs">_</tspan><tspan x="1095.3" dy="1.1" textLength="23.8" lengthAdjust="spacingAndGlyphs">at</tspan></text>
<text x="752.2" y="561.9" font-size="27.00" fill="#000" textLength="77.6" lengthAdjust="spacingAndGlyphs">FCRL5</text>
<text y="561.9" font-size="27.00"><tspan x="929.8" textLength="120.8" lengthAdjust="spacingAndGlyphs">11752443</tspan><tspan x="1050.9" dy="-1.1" textLength="14.5" lengthAdjust="spacingAndGlyphs">_</tspan><tspan x="1065.7" dy="1.1" textLength="14.5" lengthAdjust="spacingAndGlyphs">a</tspan><tspan x="1080.5" dy="-1.1" textLength="14.5" lengthAdjust="spacingAndGlyphs">_</tspan><tspan x="1095.3" dy="1.1" textLength="23.8" lengthAdjust="spacingAndGlyphs">at</tspan></text>
<text x="753.0" y="596.2" font-size="27.00" fill="#000" textLength="80.8" lengthAdjust="spacingAndGlyphs">CXCR5</text>
<text y="596.2" font-size="27.00"><tspan x="929.8" textLength="120.8" lengthAdjust="spacingAndGlyphs">11733116</tspan><tspan x="1050.9" dy="-1.1" textLength="14.5" lengthAdjust="spacingAndGlyphs">_</tspan><tspan x="1065.7" dy="1.1" textLength="14.5" lengthAdjust="spacingAndGlyphs">a</tspan><tspan x="1080.5" dy="-1.1" textLength="14.5" lengthAdjust="spacingAndGlyphs">_</tspan><tspan x="1095.3" dy="1.1" textLength="23.8" lengthAdjust="spacingAndGlyphs">at</tspan></text>
<text x="753.0" y="630.6" font-size="27.00" fill="#000" textLength="80.8" lengthAdjust="spacingAndGlyphs">CXCR5</text>
<text y="630.6" font-size="27.00"><tspan x="929.8" textLength="120.8" lengthAdjust="spacingAndGlyphs">11726966</tspan><tspan x="1050.9" dy="-1.1" textLength="14.5" lengthAdjust="spacingAndGlyphs">_</tspan><tspan x="1065.7" dy="1.1" textLength="14.5" lengthAdjust="spacingAndGlyphs">a</tspan><tspan x="1080.5" dy="-1.1" textLength="14.5" lengthAdjust="spacingAndGlyphs">_</tspan><tspan x="1095.3" dy="1.1" textLength="23.8" lengthAdjust="spacingAndGlyphs">at</tspan></text>
<text x="754.2" y="664.9" font-size="27.00" fill="#000" textLength="77.6" lengthAdjust="spacingAndGlyphs">TRAF5</text>
<text y="664.9" font-size="27.00"><tspan x="929.8" textLength="120.8" lengthAdjust="spacingAndGlyphs">11728512</tspan><tspan x="1050.9" dy="-1.1" textLength="14.5" lengthAdjust="spacingAndGlyphs">_</tspan><tspan x="1065.7" dy="1.1" textLength="14.5" lengthAdjust="spacingAndGlyphs">a</tspan><tspan x="1080.5" dy="-1.1" textLength="14.5" lengthAdjust="spacingAndGlyphs">_</tspan><tspan x="1095.3" dy="1.1" textLength="23.8" lengthAdjust="spacingAndGlyphs">at</tspan></text>
</g>
<g shape-rendering="crispEdges">
<rect x="319.80" y="979.30" width="34.47" height="34.45" fill="#ed4949"/>
<rect x="353.98" y="979.30" width="34.47" height="34.45" fill="#ef5a5a"/>
<rect x="388.15" y="979.30" width="34.47" height="34.45" fill="#f9f9fe"/>
<rect x="422.32" y="979.30" width="34.47" height="34.45" fill="#dcdcfc"/>
<rect x="456.50" y="979.30" width="34.47" height="34.45" fill="#fef3f3"/>
<rect x="490.68" y="979.30" width="34.47" height="34.45" fill="#ec3d3d"/>
<rect x="524.85" y="979.30" width="34.47" height="34.45" fill="#4949ed"/>
<rect x="559.02" y="979.30" width="34.47" height="34.45" fill="#ededfd"/>
<rect x="593.20" y="979.30" width="34.47" height="34.45" fill="#c4c4f9"/>
<rect x="627.38" y="979.30" width="34.47" height="34.45" fill="#c4c4f9"/>
<rect x="661.55" y="979.30" width="34.47" height="34.45" fill="#8f8ff4"/>
<rect x="695.72" y="979.30" width="34.47" height="34.45" fill="#adadf7"/>
<rect x="319.80" y="1013.45" width="34.47" height="34.45" fill="#cacafa"/>
<rect x="353.98" y="1013.45" width="34.47" height="34.45" fill="#e81414"/>
<rect x="388.15" y="1013.45" width="34.47" height="34.45" fill="#facaca"/>
<rect x="422.32" y="1013.45" width="34.47" height="34.45" fill="#bebef9"/>
<rect x="456.50" y="1013.45" width="34.47" height="34.45" fill="#facaca"/>
<rect x="490.68" y="1013.45" width="34.47" height="34.45" fill="#fad0d0"/>
<rect x="524.85" y="1013.45" width="34.47" height="34.45" fill="#2c2cea"/>
<rect x="559.02" y="1013.45" width="34.47" height="34.45" fill="#b3b3f8"/>
<rect x="593.20" y="1013.45" width="34.47" height="34.45" fill="#ededfd"/>
<rect x="627.38" y="1013.45" width="34.47" height="34.45" fill="#f9c4c4"/>
<rect x="661.55" y="1013.45" width="34.47" height="34.45" fill="#bebef9"/>
<rect x="695.72" y="1013.45" width="34.47" height="34.45" fill="#fde8e8"/>
<rect x="319.80" y="1047.60" width="34.47" height="34.45" fill="#f3f3fe"/>
<rect x="353.98" y="1047.60" width="34.47" height="34.45" fill="#3737eb"/>
<rect x="388.15" y="1047.60" width="34.47" height="34.45" fill="#f8b3b3"/>
<rect x="422.32" y="1047.60" width="34.47" height="34.45" fill="#fce2e2"/>
<rect x="456.50" y="1047.60" width="34.47" height="34.45" fill="#f8b3b3"/>
<rect x="490.68" y="1047.60" width="34.47" height="34.45" fill="#e92020"/>
<rect x="524.85" y="1047.60" width="34.47" height="34.45" fill="#bebef9"/>
<rect x="559.02" y="1047.60" width="34.47" height="34.45" fill="#4343ed"/>
<rect x="593.20" y="1047.60" width="34.47" height="34.45" fill="#b8b8f8"/>
<rect x="627.38" y="1047.60" width="34.47" height="34.45" fill="#f59595"/>
<rect x="661.55" y="1047.60" width="34.47" height="34.45" fill="#fef3f3"/>
<rect x="695.72" y="1047.60" width="34.47" height="34.45" fill="#fdeded"/>
<rect x="319.80" y="1081.75" width="34.47" height="34.45" fill="#f3f3fe"/>
<rect x="353.98" y="1081.75" width="34.47" height="34.45" fill="#e8e8fd"/>
<rect x="388.15" y="1081.75" width="34.47" height="34.45" fill="#b3b3f8"/>
<rect x="422.32" y="1081.75" width="34.47" height="34.45" fill="#fef9f9"/>
<rect x="456.50" y="1081.75" width="34.47" height="34.45" fill="#f8b3b3"/>
<rect x="490.68" y="1081.75" width="34.47" height="34.45" fill="#ed4949"/>
<rect x="524.85" y="1081.75" width="34.47" height="34.45" fill="#9595f5"/>
<rect x="559.02" y="1081.75" width="34.47" height="34.45" fill="#3131eb"/>
<rect x="593.20" y="1081.75" width="34.47" height="34.45" fill="#6c6cf1"/>
<rect x="627.38" y="1081.75" width="34.47" height="34.45" fill="#f48f8f"/>
<rect x="661.55" y="1081.75" width="34.47" height="34.45" fill="#f27878"/>
<rect x="695.72" y="1081.75" width="34.47" height="34.45" fill="#f8b3b3"/>
<rect x="319.80" y="1115.90" width="34.47" height="34.45" fill="#f9bebe"/>
<rect x="353.98" y="1115.90" width="34.47" height="34.45" fill="#6c6cf1"/>
<rect x="388.15" y="1115.90" width="34.47" height="34.45" fill="#ededfd"/>
<rect x="422.32" y="1115.90" width="34.47" height="34.45" fill="#f59595"/>
<rect x="456.50" y="1115.90" width="34.47" height="34.45" fill="#fce2e2"/>
<rect x="490.68" y="1115.90" width="34.47" height="34.45" fill="#fad0d0"/>
<rect x="524.85" y="1115.90" width="34.47" height="34.45" fill="#2c2cea"/>
<rect x="559.02" y="1115.90" width="34.47" height="34.45" fill="#7e7ef2"/>
<rect x="593.20" y="1115.90" width="34.47" height="34.45" fill="#adadf7"/>
<rect x="627.38" y="1115.90" width="34.47" height="34.45" fill="#f38484"/>
<rect x="661.55" y="1115.90" width="34.47" height="34.45" fill="#f16c6c"/>
<rect x="695.72" y="1115.90" width="34.47" height="34.45" fill="#f6a1a1"/>
<rect x="319.80" y="1150.05" width="34.47" height="34.45" fill="#f9bebe"/>
<rect x="353.98" y="1150.05" width="34.47" height="34.45" fill="#3d3dec"/>
<rect x="388.15" y="1150.05" width="34.47" height="34.45" fill="#f3f3fe"/>
<rect x="422.32" y="1150.05" width="34.47" height="34.45" fill="#ef5a5a"/>
<rect x="456.50" y="1150.05" width="34.47" height="34.45" fill="#f8b3b3"/>
<rect x="490.68" y="1150.05" width="34.47" height="34.45" fill="#fce2e2"/>
<rect x="524.85" y="1150.05" width="34.47" height="34.45" fill="#5a5aef"/>
<rect x="559.02" y="1150.05" width="34.47" height="34.45" fill="#8484f3"/>
<rect x="593.20" y="1150.05" width="34.47" height="34.45" fill="#a1a1f6"/>
<rect x="627.38" y="1150.05" width="34.47" height="34.45" fill="#f16c6c"/>
<rect x="661.55" y="1150.05" width="34.47" height="34.45" fill="#fdeded"/>
<rect x="695.72" y="1150.05" width="34.47" height="34.45" fill="#f6a1a1"/>
<rect x="319.80" y="1184.20" width="34.47" height="34.45" fill="#dcdcfc"/>
<rect x="353.98" y="1184.20" width="34.47" height="34.45" fill="#bebef9"/>
<rect x="388.15" y="1184.20" width="34.47" height="34.45" fill="#d0d0fa"/>
<rect x="422.32" y="1184.20" width="34.47" height="34.45" fill="#fef9f9"/>
<rect x="456.50" y="1184.20" width="34.47" height="34.45" fill="#ffffff"/>
<rect x="490.68" y="1184.20" width="34.47" height="34.45" fill="#8484f3"/>
<rect x="524.85" y="1184.20" width="34.47" height="34.45" fill="#8a8af4"/>
<rect x="559.02" y="1184.20" width="34.47" height="34.45" fill="#fbd6d6"/>
<rect x="593.20" y="1184.20" width="34.47" height="34.45" fill="#b8b8f8"/>
<rect x="627.38" y="1184.20" width="34.47" height="34.45" fill="#f06666"/>
<rect x="661.55" y="1184.20" width="34.47" height="34.45" fill="#e81414"/>
<rect x="695.72" y="1184.20" width="34.47" height="34.45" fill="#e8e8fd"/>
<rect x="319.80" y="1218.35" width="34.47" height="34.45" fill="#dcdcfc"/>
<rect x="353.98" y="1218.35" width="34.47" height="34.45" fill="#e2e2fc"/>
<rect x="388.15" y="1218.35" width="34.47" height="34.45" fill="#fde8e8"/>
<rect x="422.32" y="1218.35" width="34.47" height="34.45" fill="#8f8ff4"/>
<rect x="456.50" y="1218.35" width="34.47" height="34.45" fill="#ededfd"/>
<rect x="490.68" y="1218.35" width="34.47" height="34.45" fill="#8a8af4"/>
<rect x="524.85" y="1218.35" width="34.47" height="34.45" fill="#8a8af4"/>
<rect x="559.02" y="1218.35" width="34.47" height="34.45" fill="#f9bebe"/>
<rect x="593.20" y="1218.35" width="34.47" height="34.45" fill="#c4c4f9"/>
<rect x="627.38" y="1218.35" width="34.47" height="34.45" fill="#facaca"/>
<rect x="661.55" y="1218.35" width="34.47" height="34.45" fill="#e81414"/>
<rect x="695.72" y="1218.35" width="34.47" height="34.45" fill="#facaca"/>
<rect x="319.80" y="1252.50" width="34.47" height="34.45" fill="#e2e2fc"/>
<rect x="353.98" y="1252.50" width="34.47" height="34.45" fill="#7272f1"/>
<rect x="388.15" y="1252.50" width="34.47" height="34.45" fill="#ededfd"/>
<rect x="422.32" y="1252.50" width="34.47" height="34.45" fill="#f3f3fe"/>
<rect x="456.50" y="1252.50" width="34.47" height="34.45" fill="#9595f5"/>
<rect x="490.68" y="1252.50" width="34.47" height="34.45" fill="#a7a7f6"/>
<rect x="524.85" y="1252.50" width="34.47" height="34.45" fill="#f3f3fe"/>
<rect x="559.02" y="1252.50" width="34.47" height="34.45" fill="#f6a7a7"/>
<rect x="593.20" y="1252.50" width="34.47" height="34.45" fill="#e8e8fd"/>
<rect x="627.38" y="1252.50" width="34.47" height="34.45" fill="#facaca"/>
<rect x="661.55" y="1252.50" width="34.47" height="34.45" fill="#e81414"/>
<rect x="695.72" y="1252.50" width="34.47" height="34.45" fill="#f3f3fe"/>
<rect x="319.80" y="1286.65" width="34.47" height="34.45" fill="#fdeded"/>
<rect x="353.98" y="1286.65" width="34.47" height="34.45" fill="#9595f5"/>
<rect x="388.15" y="1286.65" width="34.47" height="34.45" fill="#f8b3b3"/>
<rect x="422.32" y="1286.65" width="34.47" height="34.45" fill="#f3f3fe"/>
<rect x="456.50" y="1286.65" width="34.47" height="34.45" fill="#e2e2fc"/>
<rect x="490.68" y="1286.65" width="34.47" height="34.45" fill="#3131eb"/>
<rect x="524.85" y="1286.65" width="34.47" height="34.45" fill="#f3f3fe"/>
<rect x="559.02" y="1286.65" width="34.47" height="34.45" fill="#fbd6d6"/>
<rect x="593.20" y="1286.65" width="34.47" height="34.45" fill="#d6d6fb"/>
<rect x="627.38" y="1286.65" width="34.47" height="34.45" fill="#d0d0fa"/>
<rect x="661.55" y="1286.65" width="34.47" height="34.45" fill="#e81414"/>
<rect x="695.72" y="1286.65" width="34.47" height="34.45" fill="#fcdcdc"/>
<rect x="319.80" y="1320.80" width="34.47" height="34.45" fill="#fad0d0"/>
<rect x="353.98" y="1320.80" width="34.47" height="34.45" fill="#adadf7"/>
<rect x="388.15" y="1320.80" width="34.47" height="34.45" fill="#f6a7a7"/>
<rect x="422.32" y="1320.80" width="34.47" height="34.45" fill="#ededfd"/>
<rect x="456.50" y="1320.80" width="34.47" height="34.45" fill="#f3f3fe"/>
<rect x="490.68" y="1320.80" width="34.47" height="34.45" fill="#1414e8"/>
<rect x="524.85" y="1320.80" width="34.47" height="34.45" fill="#f3f3fe"/>
<rect x="559.02" y="1320.80" width="34.47" height="34.45" fill="#fbd6d6"/>
<rect x="593.20" y="1320.80" width="34.47" height="34.45" fill="#e8e8fd"/>
<rect x="627.38" y="1320.80" width="34.47" height="34.45" fill="#d0d0fa"/>
<rect x="661.55" y="1320.80" width="34.47" height="34.45" fill="#e81414"/>
<rect x="695.72" y="1320.80" width="34.47" height="34.45" fill="#fcdcdc"/>
<rect x="319.80" y="1354.95" width="34.47" height="34.45" fill="#fdeded"/>
<rect x="353.98" y="1354.95" width="34.47" height="34.45" fill="#f59595"/>
<rect x="388.15" y="1354.95" width="34.47" height="34.45" fill="#facaca"/>
<rect x="422.32" y="1354.95" width="34.47" height="34.45" fill="#b8b8f8"/>
<rect x="456.50" y="1354.95" width="34.47" height="34.45" fill="#ededfd"/>
<rect x="490.68" y="1354.95" width="34.47" height="34.45" fill="#1414e8"/>
<rect x="524.85" y="1354.95" width="34.47" height="34.45" fill="#e8e8fd"/>
<rect x="559.02" y="1354.95" width="34.47" height="34.45" fill="#fcdcdc"/>
<rect x="593.20" y="1354.95" width="34.47" height="34.45" fill="#d6d6fb"/>
<rect x="627.38" y="1354.95" width="34.47" height="34.45" fill="#ffffff"/>
<rect x="661.55" y="1354.95" width="34.47" height="34.45" fill="#ea2626"/>
<rect x="695.72" y="1354.95" width="34.47" height="34.45" fill="#fce2e2"/>
<rect x="319.80" y="1389.10" width="34.47" height="34.45" fill="#fde8e8"/>
<rect x="353.98" y="1389.10" width="34.47" height="34.45" fill="#f27e7e"/>
<rect x="388.15" y="1389.10" width="34.47" height="34.45" fill="#fad0d0"/>
<rect x="422.32" y="1389.10" width="34.47" height="34.45" fill="#a7a7f6"/>
<rect x="456.50" y="1389.10" width="34.47" height="34.45" fill="#f3f3fe"/>
<rect x="490.68" y="1389.10" width="34.47" height="34.45" fill="#1414e8"/>
<rect x="524.85" y="1389.10" width="34.47" height="34.45" fill="#e8e8fd"/>
<rect x="559.02" y="1389.10" width="34.47" height="34.45" fill="#fcdcdc"/>
<rect x="593.20" y="1389.10" width="34.47" height="34.45" fill="#cacafa"/>
<rect x="627.38" y="1389.10" width="34.47" height="34.45" fill="#ffffff"/>
<rect x="661.55" y="1389.10" width="34.47" height="34.45" fill="#ea2c2c"/>
<rect x="695.72" y="1389.10" width="34.47" height="34.45" fill="#fdeded"/>
<rect x="319.80" y="1423.25" width="34.47" height="34.45" fill="#f3f3fe"/>
<rect x="353.98" y="1423.25" width="34.47" height="34.45" fill="#f06666"/>
<rect x="388.15" y="1423.25" width="34.47" height="34.45" fill="#d0d0fa"/>
<rect x="422.32" y="1423.25" width="34.47" height="34.45" fill="#adadf7"/>
<rect x="456.50" y="1423.25" width="34.47" height="34.45" fill="#f3f3fe"/>
<rect x="490.68" y="1423.25" width="34.47" height="34.45" fill="#4949ed"/>
<rect x="524.85" y="1423.25" width="34.47" height="34.45" fill="#e2e2fc"/>
<rect x="559.02" y="1423.25" width="34.47" height="34.45" fill="#f9f9fe"/>
<rect x="593.20" y="1423.25" width="34.47" height="34.45" fill="#b3b3f8"/>
<rect x="627.38" y="1423.25" width="34.47" height="34.45" fill="#dcdcfc"/>
<rect x="661.55" y="1423.25" width="34.47" height="34.45" fill="#e81414"/>
<rect x="695.72" y="1423.25" width="34.47" height="34.45" fill="#f8b3b3"/>
<rect x="319.80" y="1457.40" width="34.47" height="34.45" fill="#e8e8fd"/>
<rect x="353.98" y="1457.40" width="34.47" height="34.45" fill="#f59595"/>
<rect x="388.15" y="1457.40" width="34.47" height="34.45" fill="#b3b3f8"/>
<rect x="422.32" y="1457.40" width="34.47" height="34.45" fill="#b3b3f8"/>
<rect x="456.50" y="1457.40" width="34.47" height="34.45" fill="#c4c4f9"/>
<rect x="490.68" y="1457.40" width="34.47" height="34.45" fill="#6666f0"/>
<rect x="524.85" y="1457.40" width="34.47" height="34.45" fill="#f9f9fe"/>
<rect x="559.02" y="1457.40" width="34.47" height="34.45" fill="#f48a8a"/>
<rect x="593.20" y="1457.40" width="34.47" height="34.45" fill="#8484f3"/>
<rect x="627.38" y="1457.40" width="34.47" height="34.45" fill="#fce2e2"/>
<rect x="661.55" y="1457.40" width="34.47" height="34.45" fill="#e81414"/>
<rect x="695.72" y="1457.40" width="34.47" height="34.45" fill="#fdeded"/>
<rect x="319.80" y="1491.55" width="34.47" height="34.45" fill="#dcdcfc"/>
<rect x="353.98" y="1491.55" width="34.47" height="34.45" fill="#7e7ef2"/>
<rect x="388.15" y="1491.55" width="34.47" height="34.45" fill="#ffffff"/>
<rect x="422.32" y="1491.55" width="34.47" height="34.45" fill="#8f8ff4"/>
<rect x="456.50" y="1491.55" width="34.47" height="34.45" fill="#6c6cf1"/>
<rect x="490.68" y="1491.55" width="34.47" height="34.45" fill="#fcdcdc"/>
<rect x="524.85" y="1491.55" width="34.47" height="34.45" fill="#f59b9b"/>
<rect x="559.02" y="1491.55" width="34.47" height="34.45" fill="#ef5a5a"/>
<rect x="593.20" y="1491.55" width="34.47" height="34.45" fill="#ea2c2c"/>
<rect x="627.38" y="1491.55" width="34.47" height="34.45" fill="#9b9bf5"/>
<rect x="661.55" y="1491.55" width="34.47" height="34.45" fill="#f7adad"/>
<rect x="695.72" y="1491.55" width="34.47" height="34.45" fill="#d0d0fa"/>
<rect x="319.80" y="1525.70" width="34.47" height="34.45" fill="#d6d6fb"/>
<rect x="353.98" y="1525.70" width="34.47" height="34.45" fill="#4343ed"/>
<rect x="388.15" y="1525.70" width="34.47" height="34.45" fill="#ededfd"/>
<rect x="422.32" y="1525.70" width="34.47" height="34.45" fill="#6c6cf1"/>
<rect x="456.50" y="1525.70" width="34.47" height="34.45" fill="#b8b8f8"/>
<rect x="490.68" y="1525.70" width="34.47" height="34.45" fill="#f9bebe"/>
<rect x="524.85" y="1525.70" width="34.47" height="34.45" fill="#f9bebe"/>
<rect x="559.02" y="1525.70" width="34.47" height="34.45" fill="#f06666"/>
<rect x="593.20" y="1525.70" width="34.47" height="34.45" fill="#eb3131"/>
<rect x="627.38" y="1525.70" width="34.47" height="34.45" fill="#bebef9"/>
<rect x="661.55" y="1525.70" width="34.47" height="34.45" fill="#f59595"/>
<rect x="695.72" y="1525.70" width="34.47" height="34.45" fill="#bebef9"/>
<rect x="319.80" y="1559.85" width="34.47" height="34.45" fill="#fef9f9"/>
<rect x="353.98" y="1559.85" width="34.47" height="34.45" fill="#4343ed"/>
<rect x="388.15" y="1559.85" width="34.47" height="34.45" fill="#fdeded"/>
<rect x="422.32" y="1559.85" width="34.47" height="34.45" fill="#4f4fee"/>
<rect x="456.50" y="1559.85" width="34.47" height="34.45" fill="#adadf7"/>
<rect x="490.68" y="1559.85" width="34.47" height="34.45" fill="#cacafa"/>
<rect x="524.85" y="1559.85" width="34.47" height="34.45" fill="#f17272"/>
<rect x="559.02" y="1559.85" width="34.47" height="34.45" fill="#f27878"/>
<rect x="593.20" y="1559.85" width="34.47" height="34.45" fill="#ee5555"/>
<rect x="627.38" y="1559.85" width="34.47" height="34.45" fill="#c4c4f9"/>
<rect x="661.55" y="1559.85" width="34.47" height="34.45" fill="#f6a7a7"/>
<rect x="695.72" y="1559.85" width="34.47" height="34.45" fill="#fef3f3"/>
<rect x="319.80" y="1594.00" width="34.47" height="34.45" fill="#d0d0fa"/>
<rect x="353.98" y="1594.00" width="34.47" height="34.45" fill="#7e7ef2"/>
<rect x="388.15" y="1594.00" width="34.47" height="34.45" fill="#b8b8f8"/>
<rect x="422.32" y="1594.00" width="34.47" height="34.45" fill="#b8b8f8"/>
<rect x="456.50" y="1594.00" width="34.47" height="34.45" fill="#b8b8f8"/>
<rect x="490.68" y="1594.00" width="34.47" height="34.45" fill="#9b9bf5"/>
<rect x="524.85" y="1594.00" width="34.47" height="34.45" fill="#f27e7e"/>
<rect x="559.02" y="1594.00" width="34.47" height="34.45" fill="#f17272"/>
<rect x="593.20" y="1594.00" width="34.47" height="34.45" fill="#eb3737"/>
<rect x="627.38" y="1594.00" width="34.47" height="34.45" fill="#adadf7"/>
<rect x="661.55" y="1594.00" width="34.47" height="34.45" fill="#ee5555"/>
<rect x="695.72" y="1594.00" width="34.47" height="34.45" fill="#d0d0fa"/>
<rect x="319.80" y="1628.15" width="34.47" height="34.45" fill="#b3b3f8"/>
<rect x="353.98" y="1628.15" width="34.47" height="34.45" fill="#1a1ae9"/>
<rect x="388.15" y="1628.15" width="34.47" height="34.45" fill="#bebef9"/>
<rect x="422.32" y="1628.15" width="34.47" height="34.45" fill="#fce2e2"/>
<rect x="456.50" y="1628.15" width="34.47" height="34.45" fill="#ededfd"/>
<rect x="490.68" y="1628.15" width="34.47" height="34.45" fill="#7e7ef2"/>
<rect x="524.85" y="1628.15" width="34.47" height="34.45" fill="#ed4949"/>
<rect x="559.02" y="1628.15" width="34.47" height="34.45" fill="#f48a8a"/>
<rect x="593.20" y="1628.15" width="34.47" height="34.45" fill="#f38484"/>
<rect x="627.38" y="1628.15" width="34.47" height="34.45" fill="#f3f3fe"/>
<rect x="661.55" y="1628.15" width="34.47" height="34.45" fill="#f48a8a"/>
<rect x="695.72" y="1628.15" width="34.47" height="34.45" fill="#ffffff"/>
</g>
<g stroke="#555555" stroke-width="2.0" stroke-linecap="square" fill="none">
<line x1="273.6" y1="996.4" x2="318.8" y2="996.4"/>
<line x1="273.6" y1="1030.5" x2="318.8" y2="1030.5"/>
<line x1="273.6" y1="996.4" x2="273.6" y2="1030.5"/>
<line x1="273.6" y1="1064.7" x2="318.8" y2="1064.7"/>
<line x1="273.6" y1="1098.8" x2="318.8" y2="1098.8"/>
<line x1="273.6" y1="1064.7" x2="273.6" y2="1098.8"/>
<line x1="273.6" y1="1133.0" x2="318.8" y2="1133.0"/>
<line x1="273.6" y1="1167.1" x2="318.8" y2="1167.1"/>
<line x1="273.6" y1="1133.0" x2="273.6" y2="1167.1"/>
<line x1="228.3" y1="1081.8" x2="273.6" y2="1081.8"/>
<line x1="228.3" y1="1150.0" x2="273.6" y2="1150.0"/>
<line x1="228.3" y1="1081.8" x2="228.3" y2="1150.0"/>
<line x1="182.8" y1="1013.4" x2="273.6" y2="1013.4"/>
<line x1="182.8" y1="1115.9" x2="228.3" y2="1115.9"/>
<line x1="182.8" y1="1013.4" x2="182.8" y2="1115.9"/>
<line x1="273.6" y1="1201.3" x2="318.8" y2="1201.3"/>
<line x1="273.6" y1="1235.4" x2="318.8" y2="1235.4"/>
<line x1="273.6" y1="1201.3" x2="273.6" y2="1235.4"/>
<line x1="228.3" y1="1218.3" x2="273.6" y2="1218.3"/>
<line x1="228.3" y1="1269.6" x2="318.8" y2="1269.6"/>
<line x1="228.3" y1="1218.3" x2="228.3" y2="1269.6"/>
<line x1="273.6" y1="1303.7" x2="318.8" y2="1303.7"/>
<line x1="273.6" y1="1337.9" x2="318.8" y2="1337.9"/>
<line x1="273.6" y1="1303.7" x2="273.6" y2="1337.9"/>
<line x1="182.8" y1="1244.0" x2="228.3" y2="1244.0"/>
<line x1="182.8" y1="1320.8" x2="273.6" y2="1320.8"/>
<line x1="182.8" y1="1244.0" x2="182.8" y2="1320.8"/>
<line x1="273.6" y1="1372.0" x2="318.8" y2="1372.0"/>
<line x1="273.6" y1="1406.2" x2="318.8" y2="1406.2"/>
<line x1="273.6" y1="1372.0" x2="273.6" y2="1406.2"/>
<line x1="228.3" y1="1389.1" x2="273.6" y2="1389.1"/>
<line x1="228.3" y1="1440.3" x2="318.8" y2="1440.3"/>
<line x1="228.3" y1="1389.1" x2="228.3" y2="1440.3"/>
<line x1="182.8" y1="1414.7" x2="228.3" y2="1414.7"/>
<line x1="182.8" y1="1474.5" x2="318.8" y2="1474.5"/>
<line x1="182.8" y1="1414.7" x2="182.8" y2="1474.5"/>
<line x1="137.3" y1="1282.4" x2="182.8" y2="1282.4"/>
<line x1="137.3" y1="1444.6" x2="182.8" y2="1444.6"/>
<line x1="137.3" y1="1282.4" x2="137.3" y2="1444.6"/>
<line x1="273.6" y1="1508.6" x2="318.8" y2="1508.6"/>
<line x1="273.6" y1="1542.8" x2="318.8" y2="1542.8"/>
<line x1="273.6" y1="1508.6" x2="273.6" y2="1542.8"/>
<line x1="228.3" y1="1525.7" x2="273.6" y2="1525.7"/>
<line x1="228.3" y1="1576.9" x2="318.8" y2="1576.9"/>
<line x1="228.3" y1="1525.7" x2="228.3" y2="1576.9"/>
<line x1="182.8" y1="1551.3" x2="228.3" y2="1551.3"/>
<line x1="182.8" y1="1611.1" x2="318.8" y2="1611.1"/>
<line x1="182.8" y1="1551.3" x2="182.8" y2="1611.1"/>
<line x1="137.3" y1="1581.2" x2="182.8" y2="1581.2"/>
<line x1="137.3" y1="1645.2" x2="318.8" y2="1645.2"/>
<line x1="137.3" y1="1581.2" x2="137.3" y2="1645.2"/>
<line x1="91.7" y1="1363.5" x2="137.3" y2="1363.5"/>
<line x1="91.7" y1="1613.2" x2="137.3" y2="1613.2"/>
<line x1="91.7" y1="1363.5" x2="91.7" y2="1613.2"/>
<line x1="46.1" y1="1064.7" x2="182.8" y2="1064.7"/>
<line x1="46.1" y1="1488.3" x2="91.7" y2="1488.3"/>
<line x1="46.1" y1="1064.7" x2="46.1" y2="1488.3"/>
<line x1="1.0" y1="1276.5" x2="46.1" y2="1276.5"/>
</g>
<rect x="321.30" y="935.9" width="28.6" height="28.3" fill="#6e6e6e"/>
<rect x="355.48" y="935.9" width="28.6" height="28.3" fill="#6e6e6e"/>
<rect x="389.66" y="935.9" width="28.6" height="28.3" fill="#6e6e6e"/>
<rect x="423.84" y="935.9" width="28.6" height="28.3" fill="#00ffff"/>
<rect x="458.02" y="935.9" width="28.6" height="28.3" fill="#00ffff"/>
<rect x="492.20" y="935.9" width="28.6" height="28.3" fill="#00ffff"/>
<rect x="526.38" y="935.9" width="28.6" height="28.3" fill="#c40000"/>
<rect x="560.56" y="935.9" width="28.6" height="28.3" fill="#c40000"/>
<rect x="594.74" y="935.9" width="28.6" height="28.3" fill="#c40000"/>
<rect x="628.92" y="935.9" width="28.6" height="28.3" fill="#52c252"/>
<rect x="663.10" y="935.9" width="28.6" height="28.3" fill="#52c252"/>
<rect x="697.28" y="935.9" width="28.6" height="28.3" fill="#52c252"/>
<g font-family='"DejaVu Sans Condensed","DejaVu Sans","Liberation Sans",sans-serif' stroke="#000" stroke-width="0.5">
<text x="732.3" y="962.8" font-size="26.70" fill="#000" textLength="114.3" lengthAdjust="spacingAndGlyphs">Condition</text>
<text x="910.3" y="962.8" font-size="26.70" fill="#000" textLength="114.3" lengthAdjust="spacingAndGlyphs">Condition</text>
<text x="734.3" y="1005.0" font-size="26.70" fill="#000" textLength="60.4" lengthAdjust="spacingAndGlyphs">TLR7</text>
<text y="1005.0" font-size="26.70"><tspan x="910.3" textLength="119.0" lengthAdjust="spacingAndGlyphs">11731147</tspan><tspan x="1029.6" dy="-1.1" textLength="14.3" lengthAdjust="spacingAndGlyphs">_</tspan><tspan x="1044.1" dy="1.1" textLength="23.4" lengthAdjust="spacingAndGlyphs">at</tspan></text>
<text x="734.3" y="1039.1" font-size="26.70" fill="#000" textLength="60.4" lengthAdjust="spacingAndGlyphs">TLR7</text>
<text y="1039.1" font-size="26.70"><tspan x="910.3" textLength="119.0" lengthAdjust="spacingAndGlyphs">11731148</tspan><tspan x="1029.6" dy="-1.1" textLength="14.3" lengthAdjust="spacingAndGlyphs">_</tspan><tspan x="1044.1" dy="1.1" textLength="23.4" lengthAdjust="spacingAndGlyphs">at</tspan></text>
<text x="734.5" y="1073.3" font-size="26.70" fill="#000" textLength="76.4" lengthAdjust="spacingAndGlyphs">TRAF5</text>
<text y="1073.3" font-size="26.70"><tspan x="910.3" textLength="119.0" lengthAdjust="spacingAndGlyphs">11749141</tspan><tspan x="1029.6" dy="-1.1" textLength="14.3" lengthAdjust="spacingAndGlyphs">_</tspan><tspan x="1044.1" dy="1.1" textLength="14.3" lengthAdjust="spacingAndGlyphs">a</tspan><tspan x="1058.7" dy="-1.1" textLength="14.3" lengthAdjust="spacingAndGlyphs">_</tspan><tspan x="1073.3" dy="1.1" textLength="23.4" lengthAdjust="spacingAndGlyphs">at</tspan></text>
<text x="734.5" y="1107.4" font-size="26.70" fill="#000" textLength="76.4" lengthAdjust="spacingAndGlyphs">TRAF5</text>
<text y="1107.4" font-size="26.70"><tspan x="910.3" textLength="119.0" lengthAdjust="spacingAndGlyphs">11728512</tspan><tspan x="1029.6" dy="-1.1" textLength="14.3" lengthAdjust="spacingAndGlyphs">_</tspan><tspan x="1044.1" dy="1.1" textLength="14.3" lengthAdjust="spacingAndGlyphs">a</tspan><tspan x="1058.7" dy="-1.1" textLength="14.3" lengthAdjust="spacingAndGlyphs">_</tspan><tspan x="1073.3" dy="1.1" textLength="23.4" lengthAdjust="spacingAndGlyphs">at</tspan></text>
<text x="733.3" y="1141.6" font-size="26.70" fill="#000" textLength="79.6" lengthAdjust="spacingAndGlyphs">CXCR5</text>
<text y="1141.6" font-size="26.70"><tspan x="910.3" textLength="119.0" lengthAdjust="spacingAndGlyphs">11726966</tspan><tspan x="1029.6" dy="-1.1" textLength="14.3" lengthAdjust="spacingAndGlyphs">_</tspan><tspan x="1044.1" dy="1.1" textLength="14.3" lengthAdjust="spacingAndGlyphs">a</tspan><tspan x="1058.7" dy="-1.1" textLength="14.3" lengthAdjust="spacingAndGlyphs">_</tspan><tspan x="1073.3" dy="1.1" textLength="23.4" lengthAdjust="spacingAndGlyphs">at</tspan></text>
<text x="733.3" y="1175.7" font-size="26.70" fill="#000" textLength="79.6" lengthAdjust="spacingAndGlyphs">CXCR5</text>
<text y="1175.7" font-size="26.70"><tspan x="910.3" textLength="119.0" lengthAdjust="spacingAndGlyphs">11733116</tspan><tspan x="1029.6" dy="-1.1" textLength="14.3" lengthAdjust="spacingAndGlyphs">_</tspan><tspan x="1044.1" dy="1.1" textLength="14.3" lengthAdjust="spacingAndGlyphs">a</tspan><tspan x="1058.7" dy="-1.1" textLength="14.3" lengthAdjust="spacingAndGlyphs">_</tspan><tspan x="1073.3" dy="1.1" textLength="23.4" lengthAdjust="spacingAndGlyphs">at</tspan></text>
<text x="732.5" y="1209.9" font-size="26.70" fill="#000" textLength="76.4" lengthAdjust="spacingAndGlyphs">FCRL5</text>
<text y="1209.9" font-size="26.70"><tspan x="910.3" textLength="119.0" lengthAdjust="spacingAndGlyphs">11727230</tspan><tspan x="1029.6" dy="-1.1" textLength="14.3" lengthAdjust="spacingAndGlyphs">_</tspan><tspan x="1044.1" dy="1.1" textLength="14.3" lengthAdjust="spacingAndGlyphs">a</tspan><tspan x="1058.7" dy="-1.1" textLength="14.3" lengthAdjust="spacingAndGlyphs">_</tspan><tspan x="1073.3" dy="1.1" textLength="23.4" lengthAdjust="spacingAndGlyphs">at</tspan></text>
<text x="732.5" y="1244.0" font-size="26.70" fill="#000" textLength="76.4" lengthAdjust="spacingAndGlyphs">FCRL5</text>
<text y="1244.0" font-size="26.70"><tspan x="910.3" textLength="119.0" lengthAdjust="spacingAndGlyphs">11745422</tspan><tspan x="1029.6" dy="-1.1" textLength="14.3" lengthAdjust="spacingAndGlyphs">_</tspan><tspan x="1044.1" dy="1.1" textLength="14.3" lengthAdjust="spacingAndGlyphs">a</tspan><tspan x="1058.7" dy="-1.1" textLength="14.3" lengthAdjust="spacingAndGlyphs">_</tspan><tspan x="1073.3" dy="1.1" textLength="23.4" lengthAdjust="spacingAndGlyphs">at</tspan></text>
<text x="732.5" y="1278.2" font-size="26.70" fill="#000" textLength="76.4" lengthAdjust="spacingAndGlyphs">FCRL5</text>
<text y="1278.2" font-size="26.70"><tspan x="910.3" textLength="119.0" lengthAdjust="spacingAndGlyphs">11752443</tspan><tspan x="1029.6" dy="-1.1" textLength="14.3" lengthAdjust="spacingAndGlyphs">_</tspan><tspan x="1044.1" dy="1.1" textLength="14.3" lengthAdjust="spacingAndGlyphs">a</tspan><tspan x="1058.7" dy="-1.1" textLength="14.3" lengthAdjust="spacingAndGlyphs">_</tspan><tspan x="1073.3" dy="1.1" textLength="23.4" lengthAdjust="spacingAndGlyphs">at</tspan></text>
<text x="732.5" y="1312.3" font-size="26.70" fill="#000" textLength="76.4" lengthAdjust="spacingAndGlyphs">FCRL5</text>
<text y="1312.3" font-size="26.70"><tspan x="910.3" textLength="119.0" lengthAdjust="spacingAndGlyphs">11761027</tspan><tspan x="1029.6" dy="-1.1" textLength="14.3" lengthAdjust="spacingAndGlyphs">_</tspan><tspan x="1044.1" dy="1.1" textLength="13.5" lengthAdjust="spacingAndGlyphs">x</tspan><tspan x="1057.9" dy="-1.1" textLength="14.3" lengthAdjust="spacingAndGlyphs">_</tspan><tspan x="1072.5" dy="1.1" textLength="23.4" lengthAdjust="spacingAndGlyphs">at</tspan></text>
<text x="732.5" y="1346.5" font-size="26.70" fill="#000" textLength="76.4" lengthAdjust="spacingAndGlyphs">FCRL5</text>
<text y="1346.5" font-size="26.70"><tspan x="910.3" textLength="119.0" lengthAdjust="spacingAndGlyphs">11747768</tspan><tspan x="1029.6" dy="-1.1" textLength="14.3" lengthAdjust="spacingAndGlyphs">_</tspan><tspan x="1044.1" dy="1.1" textLength="14.3" lengthAdjust="spacingAndGlyphs">a</tspan><tspan x="1058.7" dy="-1.1" textLength="14.3" lengthAdjust="spacingAndGlyphs">_</tspan><tspan x="1073.3" dy="1.1" textLength="23.4" lengthAdjust="spacingAndGlyphs">at</tspan></text>
<text x="732.5" y="1380.6" font-size="26.70" fill="#000" textLength="76.4" lengthAdjust="spacingAndGlyphs">FCRL5</text>
<text y="1380.6" font-size="26.70"><tspan x="910.3" textLength="119.0" lengthAdjust="spacingAndGlyphs">11763306</tspan><tspan x="1029.6" dy="-1.1" textLength="14.3" lengthAdjust="spacingAndGlyphs">_</tspan><tspan x="1044.1" dy="1.1" textLength="13.5" lengthAdjust="spacingAndGlyphs">x</tspan><tspan x="1057.9" dy="-1.1" textLength="14.3" lengthAdjust="spacingAndGlyphs">_</tspan><tspan x="1072.5" dy="1.1" textLength="23.4" lengthAdjust="spacingAndGlyphs">at</tspan></text>
<text x="732.5" y="1414.8" font-size="26.70" fill="#000" textLength="76.4" lengthAdjust="spacingAndGlyphs">FCRL5</text>
<text y="1414.8" font-size="26.70"><tspan x="910.3" textLength="119.0" lengthAdjust="spacingAndGlyphs">11763305</tspan><tspan x="1029.6" dy="-1.1" textLength="14.3" lengthAdjust="spacingAndGlyphs">_</tspan><tspan x="1044.1" dy="1.1" textLength="23.4" lengthAdjust="spacingAndGlyphs">at</tspan></text>
<text x="732.5" y="1448.9" font-size="26.70" fill="#000" textLength="76.4" lengthAdjust="spacingAndGlyphs">FCRL5</text>
<text y="1448.9" font-size="26.70"><tspan x="910.3" textLength="119.0" lengthAdjust="spacingAndGlyphs">11755780</tspan><tspan x="1029.6" dy="-1.1" textLength="14.3" lengthAdjust="spacingAndGlyphs">_</tspan><tspan x="1044.1" dy="1.1" textLength="14.3" lengthAdjust="spacingAndGlyphs">a</tspan><tspan x="1058.7" dy="-1.1" textLength="14.3" lengthAdjust="spacingAndGlyphs">_</tspan><tspan x="1073.3" dy="1.1" textLength="23.4" lengthAdjust="spacingAndGlyphs">at</tspan></text>
<text x="732.5" y="1483.1" font-size="26.70" fill="#000" textLength="76.4" lengthAdjust="spacingAndGlyphs">FCRL5</text>
<text y="1483.1" font-size="26.70"><tspan x="910.3" textLength="119.0" lengthAdjust="spacingAndGlyphs">11762375</tspan><tspan x="1029.6" dy="-1.1" textLength="14.3" lengthAdjust="spacingAndGlyphs">_</tspan><tspan x="1044.1" dy="1.1" textLength="14.3" lengthAdjust="spacingAndGlyphs">a</tspan><tspan x="1058.7" dy="-1.1" textLength="14.3" lengthAdjust="spacingAndGlyphs">_</tspan><tspan x="1073.3" dy="1.1" textLength="23.4" lengthAdjust="spacingAndGlyphs">at</tspan></text>
<text x="732.3" y="1517.2" font-size="26.70" fill="#000" textLength="76.4" lengthAdjust="spacingAndGlyphs">ITGAX</text>
<text y="1517.2" font-size="26.70"><tspan x="910.3" textLength="119.0" lengthAdjust="spacingAndGlyphs">11750033</tspan><tspan x="1029.6" dy="-1.1" textLength="14.3" lengthAdjust="spacingAndGlyphs">_</tspan><tspan x="1044.1" dy="1.1" textLength="14.3" lengthAdjust="spacingAndGlyphs">a</tspan><tspan x="1058.7" dy="-1.1" textLength="14.3" lengthAdjust="spacingAndGlyphs">_</tspan><tspan x="1073.3" dy="1.1" textLength="23.4" lengthAdjust="spacingAndGlyphs">at</tspan></text>
<text x="732.3" y="1551.4" font-size="26.70" fill="#000" textLength="76.4" lengthAdjust="spacingAndGlyphs">ITGAX</text>
<text y="1551.4" font-size="26.70"><tspan x="910.3" textLength="119.0" lengthAdjust="spacingAndGlyphs">11761777</tspan><tspan x="1029.6" dy="-1.1" textLength="14.3" lengthAdjust="spacingAndGlyphs">_</tspan><tspan x="1044.1" dy="1.1" textLength="13.5" lengthAdjust="spacingAndGlyphs">x</tspan><tspan x="1057.9" dy="-1.1" textLength="14.3" lengthAdjust="spacingAndGlyphs">_</tspan><tspan x="1072.5" dy="1.1" textLength="23.4" lengthAdjust="spacingAndGlyphs">at</tspan></text>
<text x="732.3" y="1585.5" font-size="26.70" fill="#000" textLength="76.4" lengthAdjust="spacingAndGlyphs">ITGAX</text>
<text y="1585.5" font-size="26.70"><tspan x="910.3" textLength="119.0" lengthAdjust="spacingAndGlyphs">11743475</tspan><tspan x="1029.6" dy="-1.1" textLength="14.3" lengthAdjust="spacingAndGlyphs">_</tspan><tspan x="1044.1" dy="1.1" textLength="14.3" lengthAdjust="spacingAndGlyphs">a</tspan><tspan x="1058.7" dy="-1.1" textLength="14.3" lengthAdjust="spacingAndGlyphs">_</tspan><tspan x="1073.3" dy="1.1" textLength="23.4" lengthAdjust="spacingAndGlyphs">at</tspan></text>
<text x="732.3" y="1619.7" font-size="26.70" fill="#000" textLength="76.4" lengthAdjust="spacingAndGlyphs">ITGAX</text>
<text y="1619.7" font-size="26.70"><tspan x="910.3" textLength="119.0" lengthAdjust="spacingAndGlyphs">11763787</tspan><tspan x="1029.6" dy="-1.1" textLength="14.3" lengthAdjust="spacingAndGlyphs">_</tspan><tspan x="1044.1" dy="1.1" textLength="14.3" lengthAdjust="spacingAndGlyphs">a</tspan><tspan x="1058.7" dy="-1.1" textLength="14.3" lengthAdjust="spacingAndGlyphs">_</tspan><tspan x="1073.3" dy="1.1" textLength="23.4" lengthAdjust="spacingAndGlyphs">at</tspan></text>
<text x="734.3" y="1653.8" font-size="26.70" fill="#000" textLength="76.2" lengthAdjust="spacingAndGlyphs">TBX21</text>
<text y="1653.8" font-size="26.70"><tspan x="910.3" textLength="119.0" lengthAdjust="spacingAndGlyphs">11732538</tspan><tspan x="1029.6" dy="-1.1" textLength="14.3" lengthAdjust="spacingAndGlyphs">_</tspan><tspan x="1044.1" dy="1.1" textLength="23.4" lengthAdjust="spacingAndGlyphs">at</tspan></text>
<text transform="translate(326.9,1666.0) rotate(90)" font-size="27.40" textLength="168.9" lengthAdjust="spacingAndGlyphs">CD27+CD43+</text>
<text transform="translate(361.1,1666.0) rotate(90)" font-size="27.40" textLength="168.9" lengthAdjust="spacingAndGlyphs">CD27+CD43+</text>
<text transform="translate(395.2,1666.0) rotate(90)" font-size="27.40" textLength="168.9" lengthAdjust="spacingAndGlyphs">CD27+CD43+</text>
<text transform="translate(429.4,1666.0) rotate(90)" font-size="27.40" textLength="159.1" lengthAdjust="spacingAndGlyphs">CD27+CD43-</text>
<text transform="translate(463.6,1666.0) rotate(90)" font-size="27.40" textLength="159.1" lengthAdjust="spacingAndGlyphs">CD27+CD43-</text>
<text transform="translate(497.8,1666.0) rotate(90)" font-size="27.40" textLength="159.1" lengthAdjust="spacingAndGlyphs">CD27+CD43-</text>
<text transform="translate(531.9,1666.0) rotate(90)" font-size="27.40" textLength="159.1" lengthAdjust="spacingAndGlyphs">CD27-CD43+</text>
<text transform="translate(566.1,1666.0) rotate(90)" font-size="27.40" textLength="159.1" lengthAdjust="spacingAndGlyphs">CD27-CD43+</text>
<text transform="translate(600.3,1666.0) rotate(90)" font-size="27.40" textLength="159.1" lengthAdjust="spacingAndGlyphs">CD27-CD43+</text>
<text transform="translate(634.5,1666.0) rotate(90)" font-size="27.40" textLength="149.3" lengthAdjust="spacingAndGlyphs">CD27-CD43-</text>
<text transform="translate(668.6,1666.0) rotate(90)" font-size="27.40" textLength="149.3" lengthAdjust="spacingAndGlyphs">CD27-CD43-</text>
<text transform="translate(702.8,1666.0) rotate(90)" font-size="27.40" textLength="149.3" lengthAdjust="spacingAndGlyphs">CD27-CD43-</text>
</g>
<g font-family='"Liberation Sans",sans-serif'>
<text x="22.6" y="62" font-size="56" textLength="79.5" lengthAdjust="spacingAndGlyphs" stroke="#000" stroke-width="0.6">IgA</text>
<text x="23.4" y="995.1" font-size="56" textLength="82.5" lengthAdjust="spacingAndGlyphs" stroke="#000" stroke-width="0.6">IgG</text>
</g>
<g font-family='"DejaVu Sans Condensed","DejaVu Sans","Liberation Sans",sans-serif'>
<rect x="1223.1" y="1.30" width="30.6" height="30.5" fill="#999999" stroke="#000" stroke-width="2.1"/>
<text x="1262.8" y="27.9" font-size="31.30" fill="#222222" textLength="187.5" lengthAdjust="spacingAndGlyphs">CD27+CD43+</text>
<rect x="1223.1" y="41.97" width="30.6" height="30.5" fill="#00ffff" stroke="#000" stroke-width="2.1"/>
<text x="1262.8" y="68.6" font-size="31.30" fill="#222222" textLength="178.3" lengthAdjust="spacingAndGlyphs">CD27+CD43-</text>
<rect x="1223.1" y="82.64" width="30.6" height="30.5" fill="#ee2c2c" stroke="#000" stroke-width="2.1"/>
<text x="1262.8" y="109.2" font-size="31.30" fill="#222222" textLength="178.2" lengthAdjust="spacingAndGlyphs">CD27-CD43+</text>
<rect x="1223.1" y="123.31" width="30.6" height="30.5" fill="#78e878" stroke="#000" stroke-width="2.1"/>
<text x="1262.8" y="149.9" font-size="31.30" fill="#222222" textLength="169.5" lengthAdjust="spacingAndGlyphs">CD27-CD43-</text>
</g>
<defs><linearGradient id="cb" x1="0" y1="0" x2="0" y2="1"><stop offset="0" stop-color="#e81414"/><stop offset="0.5" stop-color="#ffffff"/><stop offset="1" stop-color="#1414e8"/></linearGradient></defs>
<rect x="1363" y="1368.0" width="33.8" height="469.6" fill="url(#cb)"/>
<g stroke="#000" stroke-width="1.7">
<line x1="1396.8" y1="1369.1" x2="1415.0" y2="1369.1"/>
<line x1="1396.8" y1="1392.5" x2="1403.5" y2="1392.5"/>
<line x1="1396.8" y1="1415.9" x2="1403.5" y2="1415.9"/>
<line x1="1396.8" y1="1439.3" x2="1403.5" y2="1439.3"/>
<line x1="1396.8" y1="1462.6" x2="1403.5" y2="1462.6"/>
<line x1="1396.8" y1="1486.0" x2="1415.0" y2="1486.0"/>
<line x1="1396.8" y1="1509.4" x2="1403.5" y2="1509.4"/>
<line x1="1396.8" y1="1532.8" x2="1403.5" y2="1532.8"/>
<line x1="1396.8" y1="1556.2" x2="1403.5" y2="1556.2"/>
<line x1="1396.8" y1="1579.6" x2="1403.5" y2="1579.6"/>
<line x1="1396.8" y1="1604.1" x2="1415.0" y2="1604.1"/>
<line x1="1396.8" y1="1626.3" x2="1403.5" y2="1626.3"/>
<line x1="1396.8" y1="1649.7" x2="1403.5" y2="1649.7"/>
<line x1="1396.8" y1="1673.1" x2="1403.5" y2="1673.1"/>
<line x1="1396.8" y1="1696.5" x2="1403.5" y2="1696.5"/>
<line x1="1396.8" y1="1719.9" x2="1415.0" y2="1719.9"/>
<line x1="1396.8" y1="1743.3" x2="1403.5" y2="1743.3"/>
<line x1="1396.8" y1="1766.6" x2="1403.5" y2="1766.6"/>
<line x1="1396.8" y1="1790.0" x2="1403.5" y2="1790.0"/>
<line x1="1396.8" y1="1813.4" x2="1403.5" y2="1813.4"/>
<line x1="1396.8" y1="1836.8" x2="1415.0" y2="1836.8"/>
</g>
<g font-family='"DejaVu Sans Condensed","DejaVu Sans","Liberation Sans",sans-serif' stroke="#1a1a1a" stroke-width="0.15">
<text x="1421.3" y="1374.7" font-size="18.00" fill="#1a1a1a" textLength="25.5" lengthAdjust="spacingAndGlyphs">2.0</text>
<text x="1421.3" y="1398.1" font-size="18.00" fill="#1a1a1a" textLength="25.5" lengthAdjust="spacingAndGlyphs">1.8</text>
<text x="1421.3" y="1421.5" font-size="18.00" fill="#1a1a1a" textLength="25.5" lengthAdjust="spacingAndGlyphs">1.6</text>
<text x="1421.3" y="1444.9" font-size="18.00" fill="#1a1a1a" textLength="25.5" lengthAdjust="spacingAndGlyphs">1.4</text>
<text x="1421.3" y="1468.2" font-size="18.00" fill="#1a1a1a" textLength="25.5" lengthAdjust="spacingAndGlyphs">1.2</text>
<text x="1421.3" y="1491.6" font-size="18.00" fill="#1a1a1a" textLength="25.5" lengthAdjust="spacingAndGlyphs">1.0</text>
<text x="1421.3" y="1515.0" font-size="18.00" fill="#1a1a1a" textLength="25.5" lengthAdjust="spacingAndGlyphs">0.8</text>
<text x="1421.3" y="1538.4" font-size="18.00" fill="#1a1a1a" textLength="25.5" lengthAdjust="spacingAndGlyphs">0.6</text>
<text x="1421.3" y="1561.8" font-size="18.00" fill="#1a1a1a" textLength="25.5" lengthAdjust="spacingAndGlyphs">0.4</text>
<text x="1421.3" y="1585.2" font-size="18.00" fill="#1a1a1a" textLength="25.5" lengthAdjust="spacingAndGlyphs">0.2</text>
<text x="1421.3" y="1609.7" font-size="18.00" fill="#1a1a1a" textLength="25.5" lengthAdjust="spacingAndGlyphs">0.0</text>
<text x="1421.3" y="1631.9" font-size="18.00" fill="#1a1a1a" textLength="33.2" lengthAdjust="spacingAndGlyphs">-0.2</text>
<text x="1421.3" y="1655.3" font-size="18.00" fill="#1a1a1a" textLength="33.2" lengthAdjust="spacingAndGlyphs">-0.4</text>
<text x="1421.3" y="1678.7" font-size="18.00" fill="#1a1a1a" textLength="33.2" lengthAdjust="spacingAndGlyphs">-0.6</text>
<text x="1421.3" y="1702.1" font-size="18.00" fill="#1a1a1a" textLength="33.2" lengthAdjust="spacingAndGlyphs">-0.8</text>
<text x="1421.3" y="1725.5" font-size="18.00" fill="#1a1a1a" textLength="33.2" lengthAdjust="spacingAndGlyphs">-1.0</text>
<text x="1421.3" y="1748.9" font-size="18.00" fill="#1a1a1a" textLength="33.2" lengthAdjust="spacingAndGlyphs">-1.2</text>
<text x="1421.3" y="1772.2" font-size="18.00" fill="#1a1a1a" textLength="33.2" lengthAdjust="spacingAndGlyphs">-1.4</text>
<text x="1421.3" y="1795.6" font-size="18.00" fill="#1a1a1a" textLength="33.2" lengthAdjust="spacingAndGlyphs">-1.6</text>
<text x="1421.3" y="1819.0" font-size="18.00" fill="#1a1a1a" textLength="33.2" lengthAdjust="spacingAndGlyphs">-1.8</text>
<text x="1421.3" y="1842.4" font-size="18.00" fill="#1a1a1a" textLength="33.2" lengthAdjust="spacingAndGlyphs">-2.0</text>
</g>
</svg>
</body></html>
